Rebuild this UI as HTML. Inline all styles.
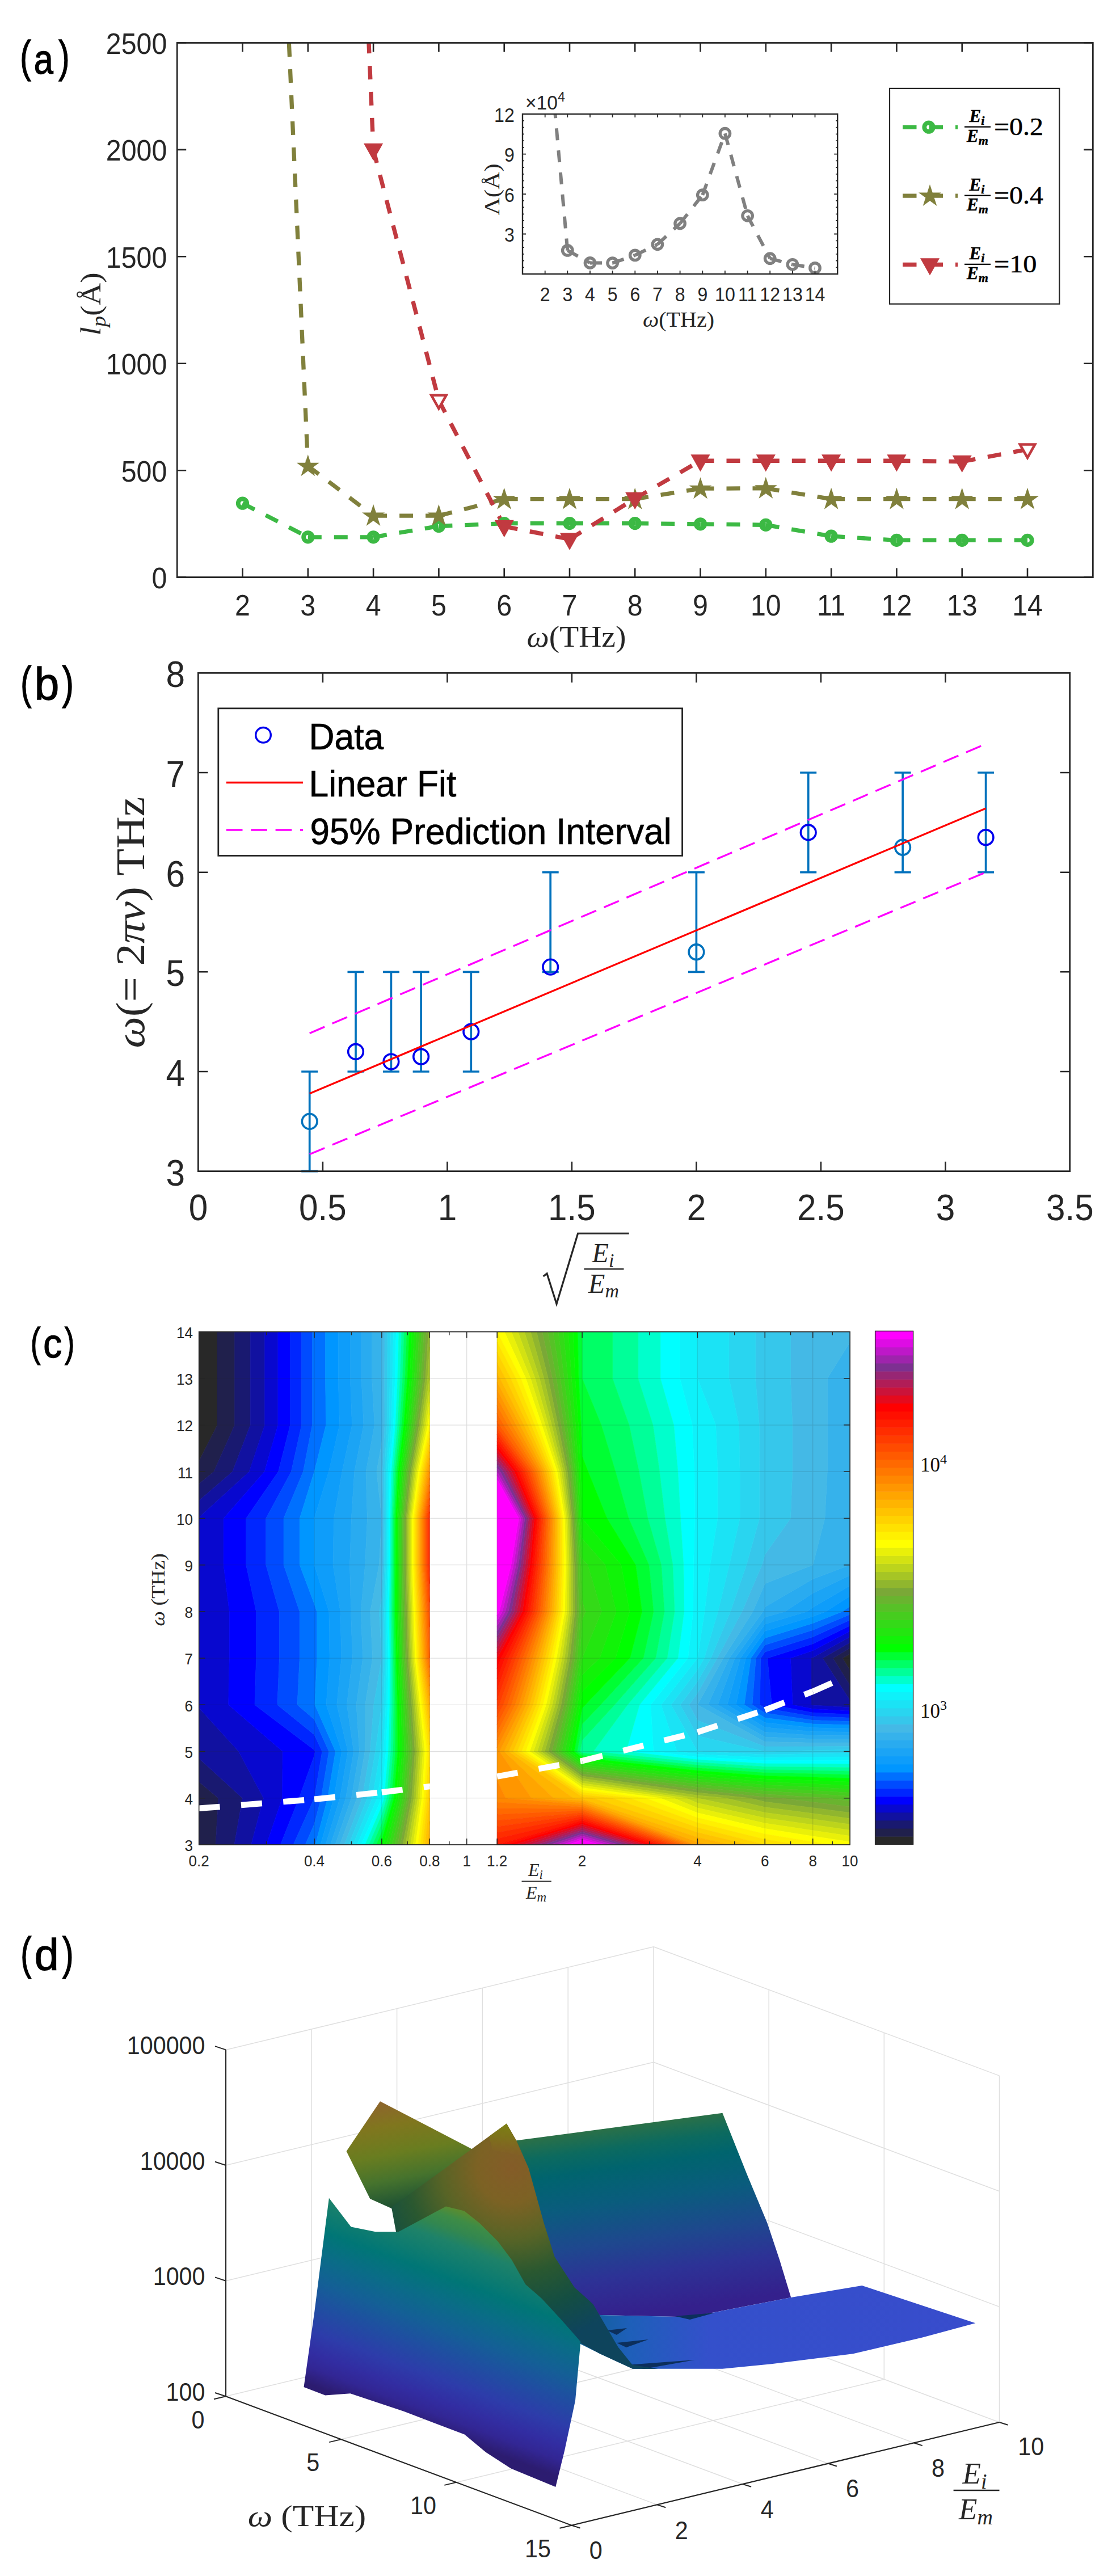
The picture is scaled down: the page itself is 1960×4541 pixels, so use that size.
<!DOCTYPE html>
<html><head><meta charset="utf-8"><title>Figure</title>
<style>html,body{margin:0;padding:0;background:#fff}svg{display:block}</style></head>
<body><svg width="1960" height="4541" viewBox="0 0 1960 4541">
<rect width="1960" height="4541" fill="#fff"/>
<clipPath id="ca"><rect x="312.2" y="75.5" width="1614.1" height="942.1"/></clipPath>
<g clip-path="url(#ca)" stroke="#3cb944" stroke-width="7.3" stroke-dasharray="24 22" fill="none"><line x1="427.5" y1="887.2" x2="542.8" y2="946.8"/><line x1="542.8" y1="946.8" x2="658.1" y2="946.8"/><line x1="658.1" y1="946.8" x2="773.4" y2="927.5"/><line x1="773.4" y1="927.5" x2="888.7" y2="922.6"/><line x1="888.7" y1="922.6" x2="1004" y2="922.6"/><line x1="1004" y1="922.6" x2="1119.2" y2="922.6"/><line x1="1119.2" y1="922.6" x2="1234.5" y2="923.8"/><line x1="1234.5" y1="923.8" x2="1349.8" y2="925.3"/><line x1="1349.8" y1="925.3" x2="1465.1" y2="945.2"/><line x1="1465.1" y1="945.2" x2="1580.4" y2="952.4"/><line x1="1580.4" y1="952.4" x2="1695.7" y2="952.4"/><line x1="1695.7" y1="952.4" x2="1811" y2="952.4"/></g>
<g clip-path="url(#ca)" stroke="#80803c" stroke-width="7.3" stroke-dasharray="24 22" fill="none"><line x1="542.8" y1="821.3" x2="427.5" y2="-1750.3" stroke-dashoffset="14"/><line x1="542.8" y1="821.3" x2="658.1" y2="909.1"/><line x1="658.1" y1="909.1" x2="773.4" y2="909.1"/><line x1="773.4" y1="909.1" x2="888.7" y2="879.7"/><line x1="888.7" y1="879.7" x2="1004" y2="879.7"/><line x1="1004" y1="879.7" x2="1119.2" y2="879.7"/><line x1="1119.2" y1="879.7" x2="1234.5" y2="861.2"/><line x1="1234.5" y1="861.2" x2="1349.8" y2="860.8"/><line x1="1349.8" y1="860.8" x2="1465.1" y2="879.7"/><line x1="1465.1" y1="879.7" x2="1580.4" y2="879.7"/><line x1="1580.4" y1="879.7" x2="1695.7" y2="879.7"/><line x1="1695.7" y1="879.7" x2="1811" y2="879.7"/></g>
<g clip-path="url(#ca)" stroke="#c13a40" stroke-width="7.4" stroke-dasharray="24 22" fill="none"><line x1="658.1" y1="263.9" x2="542.8" y2="-2427.5" stroke-dashoffset="14"/><line x1="658.1" y1="263.9" x2="773.4" y2="705.6"/><line x1="773.4" y1="705.6" x2="888.7" y2="927.9"/><line x1="888.7" y1="927.9" x2="1004" y2="950.5"/><line x1="1004" y1="950.5" x2="1119.2" y2="878.9"/><line x1="1119.2" y1="878.9" x2="1234.5" y2="812.2"/><line x1="1234.5" y1="812.2" x2="1349.8" y2="812.2"/><line x1="1349.8" y1="812.2" x2="1465.1" y2="812.2"/><line x1="1465.1" y1="812.2" x2="1580.4" y2="812.2"/><line x1="1580.4" y1="812.2" x2="1695.7" y2="813.7"/><line x1="1695.7" y1="813.7" x2="1811" y2="792.2"/></g>
<circle cx="427.5" cy="887.2" r="7.7" fill="none" stroke="#3cb944" stroke-width="7.8"/>
<circle cx="542.8" cy="946.8" r="7.7" fill="none" stroke="#3cb944" stroke-width="7.8"/>
<circle cx="658.1" cy="946.8" r="7.7" fill="none" stroke="#3cb944" stroke-width="7.8"/>
<circle cx="773.4" cy="927.5" r="7.7" fill="none" stroke="#3cb944" stroke-width="7.8"/>
<circle cx="888.7" cy="922.6" r="7.7" fill="none" stroke="#3cb944" stroke-width="7.8"/>
<circle cx="1004" cy="922.6" r="7.7" fill="none" stroke="#3cb944" stroke-width="7.8"/>
<circle cx="1119.2" cy="922.6" r="7.7" fill="none" stroke="#3cb944" stroke-width="7.8"/>
<circle cx="1234.5" cy="923.8" r="7.7" fill="none" stroke="#3cb944" stroke-width="7.8"/>
<circle cx="1349.8" cy="925.3" r="7.7" fill="none" stroke="#3cb944" stroke-width="7.8"/>
<circle cx="1465.1" cy="945.2" r="7.7" fill="none" stroke="#3cb944" stroke-width="7.8"/>
<circle cx="1580.4" cy="952.4" r="7.7" fill="none" stroke="#3cb944" stroke-width="7.8"/>
<circle cx="1695.7" cy="952.4" r="7.7" fill="none" stroke="#3cb944" stroke-width="7.8"/>
<circle cx="1811" cy="952.4" r="7.7" fill="none" stroke="#3cb944" stroke-width="7.8"/>
<polygon points="542.8,801.3 547.5,815.8 562.8,815.8 550.4,824.7 555.1,839.3 542.8,830.3 530.4,839.3 535.2,824.7 522.8,815.8 538.1,815.8" fill="#80803c"/>
<polygon points="658.1,889.1 662.8,903.6 678.1,903.6 665.7,912.5 670.4,927.1 658.1,918.1 645.7,927.1 650.4,912.5 638.1,903.6 653.4,903.6" fill="#80803c"/>
<polygon points="773.4,889.1 778.1,903.6 793.3,903.6 781,912.5 785.7,927.1 773.4,918.1 761,927.1 765.7,912.5 753.4,903.6 768.7,903.6" fill="#80803c"/>
<polygon points="888.7,859.7 893.4,874.2 908.6,874.2 896.3,883.2 901,897.7 888.7,888.7 876.3,897.7 881,883.2 868.7,874.2 883.9,874.2" fill="#80803c"/>
<polygon points="1004,859.7 1008.7,874.2 1023.9,874.2 1011.6,883.2 1016.3,897.7 1004,888.7 991.6,897.7 996.3,883.2 984,874.2 999.2,874.2" fill="#80803c"/>
<polygon points="1119.2,859.7 1124,874.2 1139.2,874.2 1126.9,883.2 1131.6,897.7 1119.2,888.7 1106.9,897.7 1111.6,883.2 1099.3,874.2 1114.5,874.2" fill="#80803c"/>
<polygon points="1234.5,841.2 1239.3,855.7 1254.5,855.7 1242.2,864.7 1246.9,879.2 1234.5,870.2 1222.2,879.2 1226.9,864.7 1214.6,855.7 1229.8,855.7" fill="#80803c"/>
<polygon points="1349.8,840.8 1354.6,855.3 1369.8,855.3 1357.5,864.3 1362.2,878.8 1349.8,869.9 1337.5,878.8 1342.2,864.3 1329.9,855.3 1345.1,855.3" fill="#80803c"/>
<polygon points="1465.1,859.7 1469.8,874.2 1485.1,874.2 1472.8,883.2 1477.5,897.7 1465.1,888.7 1452.8,897.7 1457.5,883.2 1445.2,874.2 1460.4,874.2" fill="#80803c"/>
<polygon points="1580.4,859.7 1585.1,874.2 1600.4,874.2 1588.1,883.2 1592.8,897.7 1580.4,888.7 1568.1,897.7 1572.8,883.2 1560.4,874.2 1575.7,874.2" fill="#80803c"/>
<polygon points="1695.7,859.7 1700.4,874.2 1715.7,874.2 1703.3,883.2 1708.1,897.7 1695.7,888.7 1683.4,897.7 1688.1,883.2 1675.7,874.2 1691,874.2" fill="#80803c"/>
<polygon points="1811,859.7 1815.7,874.2 1831,874.2 1818.6,883.2 1823.4,897.7 1811,888.7 1798.7,897.7 1803.4,883.2 1791,874.2 1806.3,874.2" fill="#80803c"/>
<polygon points="644.9,255.1 671.3,255.1 658.1,278.6" fill="#c13a40" stroke="#c13a40" stroke-width="4.5" stroke-linejoin="miter"/>
<polygon points="760.2,696.7 786.6,696.7 773.4,720.2" fill="#fff" stroke="#c13a40" stroke-width="4.5" stroke-linejoin="miter"/>
<polygon points="875.5,919.1 901.9,919.1 888.7,942.6" fill="#c13a40" stroke="#c13a40" stroke-width="4.5" stroke-linejoin="miter"/>
<polygon points="990.8,941.7 1017.2,941.7 1004,965.2" fill="#c13a40" stroke="#c13a40" stroke-width="4.5" stroke-linejoin="miter"/>
<polygon points="1106,870.1 1132.5,870.1 1119.2,893.6" fill="#c13a40" stroke="#c13a40" stroke-width="4.5" stroke-linejoin="miter"/>
<polygon points="1221.3,803.4 1247.7,803.4 1234.5,826.9" fill="#c13a40" stroke="#c13a40" stroke-width="4.5" stroke-linejoin="miter"/>
<polygon points="1336.6,803.4 1363,803.4 1349.8,826.9" fill="#c13a40" stroke="#c13a40" stroke-width="4.5" stroke-linejoin="miter"/>
<polygon points="1451.9,803.4 1478.3,803.4 1465.1,826.9" fill="#c13a40" stroke="#c13a40" stroke-width="4.5" stroke-linejoin="miter"/>
<polygon points="1567.2,803.4 1593.6,803.4 1580.4,826.9" fill="#c13a40" stroke="#c13a40" stroke-width="4.5" stroke-linejoin="miter"/>
<polygon points="1682.5,804.9 1708.9,804.9 1695.7,828.4" fill="#c13a40" stroke="#c13a40" stroke-width="4.5" stroke-linejoin="miter"/>
<polygon points="1797.8,783.4 1824.2,783.4 1811,806.9" fill="#fff" stroke="#c13a40" stroke-width="4.5" stroke-linejoin="miter"/>
<rect x="312.2" y="75.5" width="1614.1" height="942.1" fill="none" stroke="#262626" stroke-width="2.8"/>
<path d="M427.5 1017.6v-16M427.5 75.5v16M542.8 1017.6v-16M542.8 75.5v16M658.1 1017.6v-16M658.1 75.5v16M773.4 1017.6v-16M773.4 75.5v16M888.7 1017.6v-16M888.7 75.5v16M1004 1017.6v-16M1004 75.5v16M1119.2 1017.6v-16M1119.2 75.5v16M1234.5 1017.6v-16M1234.5 75.5v16M1349.8 1017.6v-16M1349.8 75.5v16M1465.1 1017.6v-16M1465.1 75.5v16M1580.4 1017.6v-16M1580.4 75.5v16M1695.7 1017.6v-16M1695.7 75.5v16M1811 1017.6v-16M1811 75.5v16M312.2 1017.6h16M1926.3 1017.6h-16M312.2 829.2h16M1926.3 829.2h-16M312.2 640.8h16M1926.3 640.8h-16M312.2 452.3h16M1926.3 452.3h-16M312.2 263.9h16M1926.3 263.9h-16M312.2 75.5h16M1926.3 75.5h-16" stroke="#262626" stroke-width="2.6" fill="none"/>
<text x="427.5" y="1085.2" font-size="51.4" text-anchor="middle" font-family='"Liberation Sans", sans-serif' fill="#262626" textLength="26.9" lengthAdjust="spacingAndGlyphs" >2</text>
<text x="542.8" y="1085.2" font-size="51.4" text-anchor="middle" font-family='"Liberation Sans", sans-serif' fill="#262626" textLength="26.9" lengthAdjust="spacingAndGlyphs" >3</text>
<text x="658.1" y="1085.2" font-size="51.4" text-anchor="middle" font-family='"Liberation Sans", sans-serif' fill="#262626" textLength="26.9" lengthAdjust="spacingAndGlyphs" >4</text>
<text x="773.4" y="1085.2" font-size="51.4" text-anchor="middle" font-family='"Liberation Sans", sans-serif' fill="#262626" textLength="26.9" lengthAdjust="spacingAndGlyphs" >5</text>
<text x="888.7" y="1085.2" font-size="51.4" text-anchor="middle" font-family='"Liberation Sans", sans-serif' fill="#262626" textLength="26.9" lengthAdjust="spacingAndGlyphs" >6</text>
<text x="1004" y="1085.2" font-size="51.4" text-anchor="middle" font-family='"Liberation Sans", sans-serif' fill="#262626" textLength="26.9" lengthAdjust="spacingAndGlyphs" >7</text>
<text x="1119.2" y="1085.2" font-size="51.4" text-anchor="middle" font-family='"Liberation Sans", sans-serif' fill="#262626" textLength="26.9" lengthAdjust="spacingAndGlyphs" >8</text>
<text x="1234.5" y="1085.2" font-size="51.4" text-anchor="middle" font-family='"Liberation Sans", sans-serif' fill="#262626" textLength="26.9" lengthAdjust="spacingAndGlyphs" >9</text>
<text x="1349.8" y="1085.2" font-size="51.4" text-anchor="middle" font-family='"Liberation Sans", sans-serif' fill="#262626" textLength="53.7" lengthAdjust="spacingAndGlyphs" >10</text>
<text x="1465.1" y="1085.2" font-size="51.4" text-anchor="middle" font-family='"Liberation Sans", sans-serif' fill="#262626" textLength="50.2" lengthAdjust="spacingAndGlyphs" >11</text>
<text x="1580.4" y="1085.2" font-size="51.4" text-anchor="middle" font-family='"Liberation Sans", sans-serif' fill="#262626" textLength="53.7" lengthAdjust="spacingAndGlyphs" >12</text>
<text x="1695.7" y="1085.2" font-size="51.4" text-anchor="middle" font-family='"Liberation Sans", sans-serif' fill="#262626" textLength="53.7" lengthAdjust="spacingAndGlyphs" >13</text>
<text x="1811" y="1085.2" font-size="51.4" text-anchor="middle" font-family='"Liberation Sans", sans-serif' fill="#262626" textLength="53.7" lengthAdjust="spacingAndGlyphs" >14</text>
<text x="294.3" y="1036.9" font-size="51.4" text-anchor="end" font-family='"Liberation Sans", sans-serif' fill="#262626" textLength="26.9" lengthAdjust="spacingAndGlyphs" >0</text>
<text x="294.3" y="848.5" font-size="51.4" text-anchor="end" font-family='"Liberation Sans", sans-serif' fill="#262626" textLength="80.6" lengthAdjust="spacingAndGlyphs" >500</text>
<text x="294.3" y="660.1" font-size="51.4" text-anchor="end" font-family='"Liberation Sans", sans-serif' fill="#262626" textLength="107.5" lengthAdjust="spacingAndGlyphs" >1000</text>
<text x="294.3" y="471.6" font-size="51.4" text-anchor="end" font-family='"Liberation Sans", sans-serif' fill="#262626" textLength="107.5" lengthAdjust="spacingAndGlyphs" >1500</text>
<text x="294.3" y="283.2" font-size="51.4" text-anchor="end" font-family='"Liberation Sans", sans-serif' fill="#262626" textLength="107.5" lengthAdjust="spacingAndGlyphs" >2000</text>
<text x="294.3" y="94.8" font-size="51.4" text-anchor="end" font-family='"Liberation Sans", sans-serif' fill="#262626" textLength="107.5" lengthAdjust="spacingAndGlyphs" >2500</text>
<text transform="translate(176.6,536) rotate(-90)" font-size="50" text-anchor="middle" font-family='"Liberation Serif", serif' fill="#262626" textLength="111" lengthAdjust="spacingAndGlyphs"><tspan font-style="italic">l</tspan><tspan font-style="italic" font-size="35" dy="9">p</tspan><tspan dy="-9">(Å)</tspan></text>
<text x="1016" y="1139.8" font-size="52" text-anchor="middle" font-family='"Liberation Serif", serif' fill="#262626" textLength="175" lengthAdjust="spacingAndGlyphs"><tspan font-style="italic">ω</tspan>(THz)</text>
<g font-family='"Liberation Sans", sans-serif' fill="#000" stroke="#000" stroke-width="1.4"><text transform="translate(38.9,127.1) scale(0.753,1)" x="-4.8" y="0" font-size="77">(</text><text transform="translate(62.3,129.5) scale(0.822,1)" x="-3.1" y="0" font-size="74.5">a</text><text transform="translate(103.6,127.1) scale(0.753,1)" x="-0.5" y="0" font-size="77">)</text></g>
<rect x="1568" y="155.9" width="299.3" height="379.9" fill="#fff" stroke="#262626" stroke-width="2.2"/>
<line x1="1591" y1="224.2" x2="1688" y2="224.2" stroke="#3cb944" stroke-width="7.3" stroke-dasharray="24.5 22"/>
<circle cx="1637" cy="224.2" r="7.7" fill="none" stroke="#3cb944" stroke-width="7.8"/>
<g font-family='"Liberation Serif", serif' fill="#000" stroke="#000" stroke-width="0.5">
<text x="1722" y="215.2" font-size="31" text-anchor="middle" font-style="italic" font-weight="bold">E<tspan font-size="22" dy="5">i</tspan></text>
<text x="1723" y="250.2" font-size="31" text-anchor="middle" font-style="italic" font-weight="bold">E<tspan font-size="22" dy="5">m</tspan></text>
<text x="1752" y="238.2" font-size="44" text-anchor="start" textLength="87" lengthAdjust="spacingAndGlyphs">=0.2</text>
</g>
<line x1="1700" y1="223.7" x2="1746" y2="223.7" stroke="#000" stroke-width="2.2"/>
<line x1="1591" y1="345.1" x2="1688" y2="345.1" stroke="#80803c" stroke-width="7.3" stroke-dasharray="24.5 22"/>
<polygon points="1639,325.1 1643.7,339.6 1659,339.6 1646.6,348.6 1651.3,363.1 1639,354.1 1626.7,363.1 1631.4,348.6 1619,339.6 1634.3,339.6" fill="#80803c"/>
<g font-family='"Liberation Serif", serif' fill="#000" stroke="#000" stroke-width="0.5">
<text x="1722" y="336.1" font-size="31" text-anchor="middle" font-style="italic" font-weight="bold">E<tspan font-size="22" dy="5">i</tspan></text>
<text x="1723" y="371.1" font-size="31" text-anchor="middle" font-style="italic" font-weight="bold">E<tspan font-size="22" dy="5">m</tspan></text>
<text x="1752" y="359.1" font-size="44" text-anchor="start" textLength="87" lengthAdjust="spacingAndGlyphs">=0.4</text>
</g>
<line x1="1700" y1="344.6" x2="1746" y2="344.6" stroke="#000" stroke-width="2.2"/>
<line x1="1591" y1="466.3" x2="1688" y2="466.3" stroke="#c13a40" stroke-width="7.3" stroke-dasharray="24.5 22"/>
<polygon points="1625.8,457.5 1652.2,457.5 1639,481" fill="#c13a40" stroke="#c13a40" stroke-width="4.5"/>
<g font-family='"Liberation Serif", serif' fill="#000" stroke="#000" stroke-width="0.5">
<text x="1722" y="457.3" font-size="31" text-anchor="middle" font-style="italic" font-weight="bold">E<tspan font-size="22" dy="5">i</tspan></text>
<text x="1723" y="492.3" font-size="31" text-anchor="middle" font-style="italic" font-weight="bold">E<tspan font-size="22" dy="5">m</tspan></text>
<text x="1752" y="480.3" font-size="44" text-anchor="start" textLength="75.5" lengthAdjust="spacingAndGlyphs">=10</text>
</g>
<line x1="1700" y1="465.8" x2="1746" y2="465.8" stroke="#000" stroke-width="2.2"/>
<clipPath id="ci"><rect x="921" y="201.1" width="555.2" height="281.9"/></clipPath>
<g clip-path="url(#ci)" stroke="#808080" stroke-width="6" stroke-dasharray="21 18" fill="none"><line x1="1000.3" y1="441.4" x2="960.7" y2="3.8"/><line x1="1000.3" y1="441.4" x2="1040" y2="463.5"/><line x1="1040" y1="463.5" x2="1079.6" y2="463.7"/><line x1="1079.6" y1="463.7" x2="1119.3" y2="449.9"/><line x1="1119.3" y1="449.9" x2="1158.9" y2="430.8"/><line x1="1158.9" y1="430.8" x2="1198.6" y2="394"/><line x1="1198.6" y1="394" x2="1238.3" y2="343.7"/><line x1="1238.3" y1="343.7" x2="1277.9" y2="235.2"/><line x1="1277.9" y1="235.2" x2="1317.6" y2="380.3"/><line x1="1317.6" y1="380.3" x2="1357.2" y2="455.7"/><line x1="1357.2" y1="455.7" x2="1396.9" y2="466.3"/><line x1="1396.9" y1="466.3" x2="1436.5" y2="472.4"/></g>
<circle cx="1000.3" cy="441.4" r="8.7" fill="none" stroke="#808080" stroke-width="5.4"/>
<circle cx="1040" cy="463.5" r="8.7" fill="none" stroke="#808080" stroke-width="5.4"/>
<circle cx="1079.6" cy="463.7" r="8.7" fill="none" stroke="#808080" stroke-width="5.4"/>
<circle cx="1119.3" cy="449.9" r="8.7" fill="none" stroke="#808080" stroke-width="5.4"/>
<circle cx="1158.9" cy="430.8" r="8.7" fill="none" stroke="#808080" stroke-width="5.4"/>
<circle cx="1198.6" cy="394" r="8.7" fill="none" stroke="#808080" stroke-width="5.4"/>
<circle cx="1238.3" cy="343.7" r="8.7" fill="none" stroke="#808080" stroke-width="5.4"/>
<circle cx="1277.9" cy="235.2" r="8.7" fill="none" stroke="#808080" stroke-width="5.4"/>
<circle cx="1317.6" cy="380.3" r="8.7" fill="none" stroke="#808080" stroke-width="5.4"/>
<circle cx="1357.2" cy="455.7" r="8.7" fill="none" stroke="#808080" stroke-width="5.4"/>
<circle cx="1396.9" cy="466.3" r="8.7" fill="none" stroke="#808080" stroke-width="5.4"/>
<circle cx="1436.5" cy="472.4" r="8.7" fill="none" stroke="#808080" stroke-width="5.4"/>
<rect x="921" y="201.1" width="555.2" height="281.9" fill="none" stroke="#262626" stroke-width="2.4"/>
<path d="M960.7 483v-6M960.7 201.1v6M1000.3 483v-6M1000.3 201.1v6M1040 483v-6M1040 201.1v6M1079.6 483v-6M1079.6 201.1v6M1119.3 483v-6M1119.3 201.1v6M1158.9 483v-6M1158.9 201.1v6M1198.6 483v-6M1198.6 201.1v6M1238.3 483v-6M1238.3 201.1v6M1277.9 483v-6M1277.9 201.1v6M1317.6 483v-6M1317.6 201.1v6M1357.2 483v-6M1357.2 201.1v6M1396.9 483v-6M1396.9 201.1v6M1436.5 483v-6M1436.5 201.1v6M921 412.5h6M1476.2 412.5h-6M921 342.1h6M1476.2 342.1h-6M921 271.6h6M1476.2 271.6h-6M921 471.3h3M1476.2 471.3h-3M921 459.5h3M1476.2 459.5h-3M921 447.8h3M1476.2 447.8h-3M921 436h3M1476.2 436h-3M921 424.3h3M1476.2 424.3h-3M921 400.8h3M1476.2 400.8h-3M921 389h3M1476.2 389h-3M921 377.3h3M1476.2 377.3h-3M921 365.5h3M1476.2 365.5h-3M921 353.8h3M1476.2 353.8h-3M921 330.3h3M1476.2 330.3h-3M921 318.6h3M1476.2 318.6h-3M921 306.8h3M1476.2 306.8h-3M921 295.1h3M1476.2 295.1h-3M921 283.3h3M1476.2 283.3h-3M921 259.8h3M1476.2 259.8h-3M921 248.1h3M1476.2 248.1h-3M921 236.3h3M1476.2 236.3h-3M921 224.6h3M1476.2 224.6h-3M921 212.8h3M1476.2 212.8h-3" stroke="#262626" stroke-width="1.8" fill="none"/>
<text x="960.7" y="530.9" font-size="34.5" text-anchor="middle" font-family='"Liberation Sans", sans-serif' fill="#262626" textLength="17.8" lengthAdjust="spacingAndGlyphs" >2</text>
<text x="1000.3" y="530.9" font-size="34.5" text-anchor="middle" font-family='"Liberation Sans", sans-serif' fill="#262626" textLength="17.8" lengthAdjust="spacingAndGlyphs" >3</text>
<text x="1040" y="530.9" font-size="34.5" text-anchor="middle" font-family='"Liberation Sans", sans-serif' fill="#262626" textLength="17.8" lengthAdjust="spacingAndGlyphs" >4</text>
<text x="1079.6" y="530.9" font-size="34.5" text-anchor="middle" font-family='"Liberation Sans", sans-serif' fill="#262626" textLength="17.8" lengthAdjust="spacingAndGlyphs" >5</text>
<text x="1119.3" y="530.9" font-size="34.5" text-anchor="middle" font-family='"Liberation Sans", sans-serif' fill="#262626" textLength="17.8" lengthAdjust="spacingAndGlyphs" >6</text>
<text x="1158.9" y="530.9" font-size="34.5" text-anchor="middle" font-family='"Liberation Sans", sans-serif' fill="#262626" textLength="17.8" lengthAdjust="spacingAndGlyphs" >7</text>
<text x="1198.6" y="530.9" font-size="34.5" text-anchor="middle" font-family='"Liberation Sans", sans-serif' fill="#262626" textLength="17.8" lengthAdjust="spacingAndGlyphs" >8</text>
<text x="1238.3" y="530.9" font-size="34.5" text-anchor="middle" font-family='"Liberation Sans", sans-serif' fill="#262626" textLength="17.8" lengthAdjust="spacingAndGlyphs" >9</text>
<text x="1277.9" y="530.9" font-size="34.5" text-anchor="middle" font-family='"Liberation Sans", sans-serif' fill="#262626" textLength="35.7" lengthAdjust="spacingAndGlyphs" >10</text>
<text x="1317.6" y="530.9" font-size="34.5" text-anchor="middle" font-family='"Liberation Sans", sans-serif' fill="#262626" textLength="33.3" lengthAdjust="spacingAndGlyphs" >11</text>
<text x="1357.2" y="530.9" font-size="34.5" text-anchor="middle" font-family='"Liberation Sans", sans-serif' fill="#262626" textLength="35.7" lengthAdjust="spacingAndGlyphs" >12</text>
<text x="1396.9" y="530.9" font-size="34.5" text-anchor="middle" font-family='"Liberation Sans", sans-serif' fill="#262626" textLength="35.7" lengthAdjust="spacingAndGlyphs" >13</text>
<text x="1436.5" y="530.9" font-size="34.5" text-anchor="middle" font-family='"Liberation Sans", sans-serif' fill="#262626" textLength="35.7" lengthAdjust="spacingAndGlyphs" >14</text>
<text x="906.8" y="426.1" font-size="34.5" text-anchor="end" font-family='"Liberation Sans", sans-serif' fill="#262626" textLength="17.8" lengthAdjust="spacingAndGlyphs" >3</text>
<text x="906.8" y="355.7" font-size="34.5" text-anchor="end" font-family='"Liberation Sans", sans-serif' fill="#262626" textLength="17.8" lengthAdjust="spacingAndGlyphs" >6</text>
<text x="906.8" y="285.2" font-size="34.5" text-anchor="end" font-family='"Liberation Sans", sans-serif' fill="#262626" textLength="17.8" lengthAdjust="spacingAndGlyphs" >9</text>
<text x="906.8" y="214.7" font-size="34.5" text-anchor="end" font-family='"Liberation Sans", sans-serif' fill="#262626" textLength="35.7" lengthAdjust="spacingAndGlyphs" >12</text>
<text x="926" y="192.7" font-size="34.5" font-family='"Liberation Sans", sans-serif' fill="#262626" textLength="70" lengthAdjust="spacingAndGlyphs">×10<tspan font-size="24" dy="-14">4</tspan></text>
<text transform="translate(880,334) rotate(-90)" font-size="38" text-anchor="middle" font-family='"Liberation Serif", serif' fill="#262626" textLength="91" lengthAdjust="spacingAndGlyphs">Λ(Å)</text>
<text x="1196" y="576" font-size="38" text-anchor="middle" font-family='"Liberation Serif", serif' fill="#262626" textLength="126" lengthAdjust="spacingAndGlyphs"><tspan font-style="italic">ω</tspan>(THz)</text>
<path d="M545.7 2064.7V1889M531.2 2064.7h29M531.2 1889h29M627 1889V1713.3M612.5 1889h29M612.5 1713.3h29M689.4 1889V1713.3M674.9 1889h29M674.9 1713.3h29M742.1 1889V1713.3M727.6 1889h29M727.6 1713.3h29M830.3 1889V1713.3M815.8 1889h29M815.8 1713.3h29M970.2 1713.3V1537.7M955.7 1713.3h29M955.7 1537.7h29M1227.4 1713.3V1537.7M1212.9 1713.3h29M1212.9 1537.7h29M1424.7 1537.7V1362M1410.2 1537.7h29M1410.2 1362h29M1591.1 1537.7V1362M1576.6 1537.7h29M1576.6 1362h29M1737.6 1537.7V1362M1723.1 1537.7h29M1723.1 1362h29" stroke="#0072bd" stroke-width="3.7" fill="none"/>
<circle cx="545.7" cy="1976.9" r="13.3" fill="none" stroke="#0072bd" stroke-width="3.6"/>
<circle cx="627" cy="1853.9" r="13.3" fill="none" stroke="#0000ee" stroke-width="3.6"/>
<circle cx="689.4" cy="1871.5" r="13.3" fill="none" stroke="#0000ee" stroke-width="3.6"/>
<circle cx="742.1" cy="1862.7" r="13.3" fill="none" stroke="#0000ee" stroke-width="3.6"/>
<circle cx="830.3" cy="1818.7" r="13.3" fill="none" stroke="#0000ee" stroke-width="3.6"/>
<circle cx="970.2" cy="1704.6" r="13.3" fill="none" stroke="#0000ee" stroke-width="3.6"/>
<circle cx="1227.4" cy="1678.2" r="13.3" fill="none" stroke="#0072bd" stroke-width="3.6"/>
<circle cx="1424.7" cy="1467.4" r="13.3" fill="none" stroke="#0000ee" stroke-width="3.6"/>
<circle cx="1591.1" cy="1493.7" r="13.3" fill="none" stroke="#0072bd" stroke-width="3.6"/>
<circle cx="1737.6" cy="1476.2" r="13.3" fill="none" stroke="#0000ee" stroke-width="3.6"/>
<line x1="545.7" y1="1927.7" x2="1737.6" y2="1424.9" stroke="#f00" stroke-width="3.3" />
<line x1="545.7" y1="1821.4" x2="1737.6" y2="1311.4" stroke="#f0f" stroke-width="3.3" stroke-dasharray="28.7 14.7"/>
<line x1="545.7" y1="2034.8" x2="1737.6" y2="1537.7" stroke="#f0f" stroke-width="3.3" stroke-dasharray="28.7 14.7"/>
<rect x="349.4" y="1186.3" width="1536.2" height="878.4" fill="none" stroke="#262626" stroke-width="2.8"/>
<path d="M568.9 2064.7v-17M568.9 1186.3v17M788.4 2064.7v-17M788.4 1186.3v17M1007.9 2064.7v-17M1007.9 1186.3v17M1227.4 2064.7v-17M1227.4 1186.3v17M1446.9 2064.7v-17M1446.9 1186.3v17M1666.4 2064.7v-17M1666.4 1186.3v17M349.4 1889h17M1885.6 1889h-17M349.4 1713.3h17M1885.6 1713.3h-17M349.4 1537.7h17M1885.6 1537.7h-17M349.4 1362h17M1885.6 1362h-17" stroke="#262626" stroke-width="2.6" fill="none"/>
<text x="349.4" y="2151" font-size="64" text-anchor="middle" font-family='"Liberation Sans", sans-serif' fill="#262626" textLength="33.5" lengthAdjust="spacingAndGlyphs" >0</text>
<text x="568.9" y="2151" font-size="64" text-anchor="middle" font-family='"Liberation Sans", sans-serif' fill="#262626" textLength="83.6" lengthAdjust="spacingAndGlyphs" >0.5</text>
<text x="788.4" y="2151" font-size="64" text-anchor="middle" font-family='"Liberation Sans", sans-serif' fill="#262626" textLength="33.5" lengthAdjust="spacingAndGlyphs" >1</text>
<text x="1007.9" y="2151" font-size="64" text-anchor="middle" font-family='"Liberation Sans", sans-serif' fill="#262626" textLength="83.6" lengthAdjust="spacingAndGlyphs" >1.5</text>
<text x="1227.4" y="2151" font-size="64" text-anchor="middle" font-family='"Liberation Sans", sans-serif' fill="#262626" textLength="33.5" lengthAdjust="spacingAndGlyphs" >2</text>
<text x="1446.9" y="2151" font-size="64" text-anchor="middle" font-family='"Liberation Sans", sans-serif' fill="#262626" textLength="83.6" lengthAdjust="spacingAndGlyphs" >2.5</text>
<text x="1666.4" y="2151" font-size="64" text-anchor="middle" font-family='"Liberation Sans", sans-serif' fill="#262626" textLength="33.5" lengthAdjust="spacingAndGlyphs" >3</text>
<text x="1885.9" y="2151" font-size="64" text-anchor="middle" font-family='"Liberation Sans", sans-serif' fill="#262626" textLength="83.6" lengthAdjust="spacingAndGlyphs" >3.5</text>
<text x="326" y="2089.7" font-size="64" text-anchor="end" font-family='"Liberation Sans", sans-serif' fill="#262626" textLength="33.5" lengthAdjust="spacingAndGlyphs" >3</text>
<text x="326" y="1914" font-size="64" text-anchor="end" font-family='"Liberation Sans", sans-serif' fill="#262626" textLength="33.5" lengthAdjust="spacingAndGlyphs" >4</text>
<text x="326" y="1738.3" font-size="64" text-anchor="end" font-family='"Liberation Sans", sans-serif' fill="#262626" textLength="33.5" lengthAdjust="spacingAndGlyphs" >5</text>
<text x="326" y="1562.7" font-size="64" text-anchor="end" font-family='"Liberation Sans", sans-serif' fill="#262626" textLength="33.5" lengthAdjust="spacingAndGlyphs" >6</text>
<text x="326" y="1387" font-size="64" text-anchor="end" font-family='"Liberation Sans", sans-serif' fill="#262626" textLength="33.5" lengthAdjust="spacingAndGlyphs" >7</text>
<text x="326" y="1211.3" font-size="64" text-anchor="end" font-family='"Liberation Sans", sans-serif' fill="#262626" textLength="33.5" lengthAdjust="spacingAndGlyphs" >8</text>
<rect x="384.8" y="1248.8" width="817.8" height="259.6" fill="#fff" stroke="#262626" stroke-width="2.8"/>
<circle cx="464" cy="1295.8" r="13.3" fill="none" stroke="#0000ee" stroke-width="3.4"/>
<line x1="398.8" y1="1379.5" x2="534" y2="1379.5" stroke="#f00" stroke-width="3.3" />
<line x1="398.8" y1="1463" x2="534" y2="1463" stroke="#f0f" stroke-width="3.3" stroke-dasharray="28.7 14.7"/>
<text x="544.5" y="1320.8" font-size="64.5" text-anchor="start" font-family='"Liberation Sans", sans-serif' fill="#000" textLength="131.6" lengthAdjust="spacingAndGlyphs" stroke="#000" stroke-width="0.7">Data</text>
<text x="544.5" y="1404.3" font-size="64.5" text-anchor="start" font-family='"Liberation Sans", sans-serif' fill="#000" textLength="259.7" lengthAdjust="spacingAndGlyphs" stroke="#000" stroke-width="0.7">Linear Fit</text>
<text x="546.5" y="1488" font-size="64.5" text-anchor="start" font-family='"Liberation Sans", sans-serif' fill="#000" textLength="637" lengthAdjust="spacingAndGlyphs" stroke="#000" stroke-width="0.7">95% Prediction Interval</text>
<text transform="translate(253.9,1626) rotate(-90)" font-size="71" text-anchor="middle" font-family='"Liberation Serif", serif' fill="#262626" textLength="443" lengthAdjust="spacingAndGlyphs"><tspan font-style="italic">ω</tspan>(= 2<tspan font-style="italic">πν</tspan>) THz</text>
<path d="M957.6 2250L964 2245L981 2298.5L1018.6 2174.4H1108.7" fill="none" stroke="#262626" stroke-width="3.2" stroke-linejoin="miter"/>
<line x1="1029.4" y1="2237" x2="1099.5" y2="2237" stroke="#262626" stroke-width="2.6"/>
<text x="1063" y="2224.6" font-size="48" text-anchor="middle" font-style="italic" font-family='"Liberation Serif", serif' fill="#262626">E<tspan font-size="34" dy="8">i</tspan></text>
<text x="1064" y="2278.6" font-size="48" text-anchor="middle" font-style="italic" font-family='"Liberation Serif", serif' fill="#262626">E<tspan font-size="34" dy="8">m</tspan></text>
<g font-family='"Liberation Sans", sans-serif' fill="#000" stroke="#000" stroke-width="1.4"><text transform="translate(39.8,1230.7) scale(0.723,1)" x="-4.9" y="0" font-size="79.6">(</text><text transform="translate(65.9,1233) scale(0.977,1)" x="-5.2" y="0" font-size="80">b</text><text transform="translate(109.9,1230.7) scale(0.771,1)" x="-0.5" y="0" font-size="79.6">)</text></g>
<path d="M350.7 2347.7L383 2347.7L383 2429.9L383 2512.1L350.7 2575.6L350.7 2512.1L350.7 2429.9Z" fill="#282828" stroke="#282828" stroke-width="0.7"/>
<path d="M383 2347.7L413.6 2347.7L413.6 2429.9L413.6 2512.1L376.9 2594.3L350.7 2615.7L350.7 2594.3L350.7 2575.6L383 2512.1L383 2429.9ZM350.7 3169.7L350.7 3140.9L384.7 3169.7L380.1 3251.9L350.7 3251.9Z" fill="#20204c" stroke="#20204c" stroke-width="0.7"/>
<path d="M413.6 2347.7L441.3 2347.7L441.3 2429.9L441.3 2512.1L409.7 2594.3L350.7 2645.3L350.7 2615.7L376.9 2594.3L413.6 2512.1L413.6 2429.9ZM350.7 3140.9L350.7 3099.8L427.3 3169.7L413 3251.9L380.1 3251.9L384.7 3169.7Z" fill="#191970" stroke="#191970" stroke-width="0.7"/>
<path d="M441.3 2347.7L466.6 2347.7L466.6 2429.9L466.6 2512.1L439.2 2594.3L350.7 2675L350.7 2645.3L409.7 2594.3L441.3 2512.1L441.3 2429.9ZM350.7 3087.5L350.7 3010.8L420.6 3087.5L464.4 3169.7L442.7 3251.9L413 3251.9L427.3 3169.7L350.7 3099.8Z" fill="#1111a0" stroke="#1111a0" stroke-width="0.7"/>
<path d="M466.6 2347.7L489.9 2347.7L489.9 2429.9L489.9 2512.1L466.1 2594.3L394.1 2676.5L394.1 2758.7L404.2 2840.9L404.2 2923.1L402.7 3005.3L498.3 3087.5L497.4 3169.7L469.6 3251.9L442.7 3251.9L464.4 3169.7L420.6 3087.5L350.7 3010.8L350.7 3005.3L350.7 2923.1L350.7 2840.9L350.7 2758.7L350.7 2676.5L350.7 2675L439.2 2594.3L466.6 2512.1L466.6 2429.9Z" fill="#0808cf" stroke="#0808cf" stroke-width="0.7"/>
<path d="M489.9 2347.7L511.5 2347.7L511.5 2429.9L511.5 2512.1L490.6 2594.3L433.8 2676.5L433.8 2758.7L451.6 2840.9L451.6 2923.1L449 3005.3L554 3084.8L555.3 3087.5L554 3095L527.1 3169.7L494.3 3251.9L469.6 3251.9L497.4 3169.7L498.3 3087.5L402.7 3005.3L404.2 2923.1L404.2 2840.9L394.1 2758.7L394.1 2676.5L466.1 2594.3L489.9 2512.1L489.9 2429.9Z" fill="#0000ff" stroke="#0000ff" stroke-width="0.7"/>
<path d="M511.5 2347.7L531.6 2347.7L531.6 2429.9L531.6 2512.1L513.3 2594.3L468.8 2676.5L468.8 2758.7L492.4 2840.9L492.4 2923.1L488.9 3005.3L554 3057.9L567.8 3087.5L554 3169.7L554 3169.7L517 3251.9L494.3 3251.9L527.1 3169.7L554 3095L555.3 3087.5L554 3084.8L449 3005.3L451.6 2923.1L451.6 2840.9L433.8 2758.7L433.8 2676.5L490.6 2594.3L511.5 2512.1L511.5 2429.9Z" fill="#0026ff" stroke="#0026ff" stroke-width="0.7"/>
<path d="M531.6 2347.7L550.4 2347.7L550.4 2429.9L550.4 2512.1L534.4 2594.3L500 2676.5L500 2758.7L528.2 2840.9L528.2 2923.1L524.1 3005.3L554 3030.9L579.8 3087.5L566 3169.7L554 3215.4L538.1 3251.9L517 3251.9L554 3169.7L554 3169.7L567.8 3087.5L554 3057.9L488.9 3005.3L492.4 2923.1L492.4 2840.9L468.8 2758.7L468.8 2676.5L513.3 2594.3L531.6 2512.1L531.6 2429.9Z" fill="#004bff" stroke="#004bff" stroke-width="0.7"/>
<path d="M550.4 2347.7L554 2347.7L573.6 2347.7L573.6 2429.9L574.6 2512.1L554 2594.3L554 2594.3L528.3 2676.5L528.3 2758.7L554 2827.2L558.5 2840.9L558.7 2923.1L555 3005.3L591.4 3087.5L577.5 3169.7L555.9 3251.9L554 3251.9L538.1 3251.9L554 3215.4L566 3169.7L579.8 3087.5L554 3030.9L524.1 3005.3L528.2 2923.1L528.2 2840.9L500 2758.7L500 2676.5L534.4 2594.3L550.4 2512.1L550.4 2429.9Z" fill="#0070ff" stroke="#0070ff" stroke-width="0.7"/>
<path d="M573.6 2347.7L596.3 2347.7L596.3 2429.9L598.5 2512.1L579.5 2594.3L554 2676.5L554 2758.7L579.9 2840.9L581.1 2923.1L575.1 3005.3L602.5 3087.5L588.5 3169.7L565 3251.9L555.9 3251.9L577.5 3169.7L591.4 3087.5L555 3005.3L558.7 2923.1L558.5 2840.9L554 2827.2L528.3 2758.7L528.3 2676.5L554 2594.3L554 2594.3L574.6 2512.1L573.6 2429.9Z" fill="#0096ff" stroke="#0096ff" stroke-width="0.7"/>
<path d="M596.3 2347.7L617.4 2347.7L617.4 2429.9L620.5 2512.1L603 2594.3L588.5 2676.5L587 2758.7L599.9 2840.9L601.9 2923.1L593.8 3005.3L613.2 3087.5L599.2 3169.7L573.9 3251.9L565 3251.9L588.5 3169.7L602.5 3087.5L575.1 3005.3L581.1 2923.1L579.9 2840.9L554 2758.7L554 2676.5L579.5 2594.3L598.5 2512.1L596.3 2429.9Z" fill="#0e9dfa" stroke="#0e9dfa" stroke-width="0.7"/>
<path d="M617.4 2347.7L637.1 2347.7L637.1 2429.9L641 2512.1L624.7 2594.3L619.4 2676.5L616.6 2758.7L618.5 2840.9L621.3 2923.1L611.4 3005.3L623.5 3087.5L609.5 3169.7L582.5 3251.9L573.9 3251.9L599.2 3169.7L613.2 3087.5L593.8 3005.3L601.9 2923.1L599.9 2840.9L587 2758.7L588.5 2676.5L603 2594.3L620.5 2512.1L617.4 2429.9Z" fill="#1ba4f5" stroke="#1ba4f5" stroke-width="0.7"/>
<path d="M637.1 2347.7L655.6 2347.7L655.6 2429.9L660.2 2512.1L645 2594.3L647.4 2676.5L643.6 2758.7L636.1 2840.9L639.6 2923.1L628.1 3005.3L633.5 3087.5L619.4 3169.7L590.8 3251.9L582.5 3251.9L609.5 3169.7L623.5 3087.5L611.4 3005.3L621.3 2923.1L618.5 2840.9L616.6 2758.7L619.4 2676.5L624.7 2594.3L641 2512.1L637.1 2429.9Z" fill="#29abf0" stroke="#29abf0" stroke-width="0.7"/>
<path d="M655.6 2347.7L672.9 2347.7L672.9 2347.7L672.9 2429.9L674.1 2512.1L672.9 2542.9L663.9 2594.3L672.9 2676.5L672.9 2676.5L672.9 2676.5L668.2 2758.7L652.7 2840.9L656.7 2923.1L643.8 3005.3L643.2 3087.5L629.1 3169.7L598.9 3251.9L590.8 3251.9L619.4 3169.7L633.5 3087.5L628.1 3005.3L639.6 2923.1L636.1 2840.9L643.6 2758.7L647.4 2676.5L645 2594.3L660.2 2512.1L655.6 2429.9Z" fill="#36b2eb" stroke="#36b2eb" stroke-width="0.7"/>
<path d="M672.9 2347.7L678.2 2347.7L677.8 2429.9L678.1 2512.1L674.5 2594.3L675.5 2676.5L675 2758.7L672.9 2818.5L668.4 2840.9L672.9 2923.1L672.9 2923.1L672.9 2923.1L658.7 3005.3L652.5 3087.5L638.4 3169.7L606.9 3251.9L598.9 3251.9L629.1 3169.7L643.2 3087.5L643.8 3005.3L656.7 2923.1L652.7 2840.9L668.2 2758.7L672.9 2676.5L672.9 2676.5L672.9 2676.5L663.9 2594.3L672.9 2542.9L674.1 2512.1L672.9 2429.9Z" fill="#44b9e6" stroke="#44b9e6" stroke-width="0.7"/>
<path d="M678.2 2347.7L683.3 2347.7L682.5 2429.9L682 2512.1L677.7 2594.3L678 2676.5L677.5 2758.7L674.9 2840.9L675.9 2923.1L672.9 3005.3L672.9 3005.3L661.6 3087.5L647.4 3169.7L614.6 3251.9L606.9 3251.9L638.4 3169.7L652.5 3087.5L658.7 3005.3L672.9 2923.1L672.9 2923.1L672.9 2923.1L668.4 2840.9L672.9 2818.5L675 2758.7L675.5 2676.5L674.5 2594.3L678.1 2512.1L677.8 2429.9Z" fill="#36c7eb" stroke="#36c7eb" stroke-width="0.7"/>
<path d="M683.3 2347.7L688.4 2347.7L687.2 2429.9L685.9 2512.1L680.8 2594.3L680.5 2676.5L680.1 2758.7L677.7 2840.9L678.8 2923.1L676.5 3005.3L672.9 3068.5L670.3 3087.5L656.2 3169.7L622.1 3251.9L614.6 3251.9L647.4 3169.7L661.6 3087.5L672.9 3005.3L672.9 3005.3L675.9 2923.1L674.9 2840.9L677.5 2758.7L678 2676.5L677.7 2594.3L682 2512.1L682.5 2429.9Z" fill="#29d5f0" stroke="#29d5f0" stroke-width="0.7"/>
<path d="M688.4 2347.7L693.3 2347.7L691.9 2429.9L689.7 2512.1L683.9 2594.3L683 2676.5L682.6 2758.7L680.5 2840.9L681.7 2923.1L680.1 3005.3L676 3087.5L672.9 3121.3L664.7 3169.7L629.4 3251.9L622.1 3251.9L656.2 3169.7L670.3 3087.5L672.9 3068.5L676.5 3005.3L678.8 2923.1L677.7 2840.9L680.1 2758.7L680.5 2676.5L680.8 2594.3L685.9 2512.1L687.2 2429.9Z" fill="#1be3f5" stroke="#1be3f5" stroke-width="0.7"/>
<path d="M693.3 2347.7L698.2 2347.7L696.4 2429.9L693.5 2512.1L687 2594.3L685.5 2676.5L685.1 2758.7L683.3 2840.9L684.5 2923.1L683.6 3005.3L680.3 3087.5L672.9 3169.7L672.9 3169.7L636.5 3251.9L629.4 3251.9L664.7 3169.7L672.9 3121.3L676 3087.5L680.1 3005.3L681.7 2923.1L680.5 2840.9L682.6 2758.7L683 2676.5L683.9 2594.3L689.7 2512.1L691.9 2429.9Z" fill="#0ef1fa" stroke="#0ef1fa" stroke-width="0.7"/>
<path d="M698.2 2347.7L703 2347.7L700.9 2429.9L697.2 2512.1L690 2594.3L688 2676.5L687.6 2758.7L686.1 2840.9L687.4 2923.1L687.1 3005.3L684.6 3087.5L677.3 3169.7L672.9 3184.6L643.5 3251.9L636.5 3251.9L672.9 3169.7L672.9 3169.7L680.3 3087.5L683.6 3005.3L684.5 2923.1L683.3 2840.9L685.1 2758.7L685.5 2676.5L687 2594.3L693.5 2512.1L696.4 2429.9Z" fill="#00ffff" stroke="#00ffff" stroke-width="0.7"/>
<path d="M703 2347.7L707.8 2347.7L705.3 2429.9L700.9 2512.1L693.1 2594.3L690.4 2676.5L690 2758.7L688.8 2840.9L690.2 2923.1L690.5 3005.3L688.8 3087.5L681.7 3169.7L672.9 3199.6L650.3 3251.9L643.5 3251.9L672.9 3184.6L677.3 3169.7L684.6 3087.5L687.1 3005.3L687.4 2923.1L686.1 2840.9L687.6 2758.7L688 2676.5L690 2594.3L697.2 2512.1L700.9 2429.9Z" fill="#00ffcc" stroke="#00ffcc" stroke-width="0.7"/>
<path d="M707.8 2347.7L712.4 2347.7L709.6 2429.9L704.5 2512.1L696 2594.3L692.8 2676.5L692.4 2758.7L691.5 2840.9L693 2923.1L693.9 3005.3L692.9 3087.5L686 3169.7L672.9 3214.5L656.9 3251.9L650.3 3251.9L672.9 3199.6L681.7 3169.7L688.8 3087.5L690.5 3005.3L690.2 2923.1L688.8 2840.9L690 2758.7L690.4 2676.5L693.1 2594.3L700.9 2512.1L705.3 2429.9Z" fill="#00ff99" stroke="#00ff99" stroke-width="0.7"/>
<path d="M712.4 2347.7L717 2347.7L713.9 2429.9L708.1 2512.1L699 2594.3L695.2 2676.5L694.8 2758.7L694.1 2840.9L695.7 2923.1L697.2 3005.3L697 3087.5L690.2 3169.7L672.9 3229.5L663.4 3251.9L656.9 3251.9L672.9 3214.5L686 3169.7L692.9 3087.5L693.9 3005.3L693 2923.1L691.5 2840.9L692.4 2758.7L692.8 2676.5L696 2594.3L704.5 2512.1L709.6 2429.9Z" fill="#00ff66" stroke="#00ff66" stroke-width="0.7"/>
<path d="M717 2347.7L721.5 2347.7L718.1 2429.9L711.7 2512.1L701.9 2594.3L697.6 2676.5L697.2 2758.7L696.8 2840.9L698.4 2923.1L700.5 3005.3L701 3087.5L694.3 3169.7L672.9 3244.4L669.8 3251.9L663.4 3251.9L672.9 3229.5L690.2 3169.7L697 3087.5L697.2 3005.3L695.7 2923.1L694.1 2840.9L694.8 2758.7L695.2 2676.5L699 2594.3L708.1 2512.1L713.9 2429.9Z" fill="#00ff33" stroke="#00ff33" stroke-width="0.7"/>
<path d="M721.5 2347.7L726 2347.7L722.3 2429.9L715.2 2512.1L704.8 2594.3L699.9 2676.5L699.6 2758.7L699.4 2840.9L701.1 2923.1L703.8 3005.3L705 3087.5L698.4 3169.7L675.6 3251.9L672.9 3251.9L669.8 3251.9L672.9 3244.4L694.3 3169.7L701 3087.5L700.5 3005.3L698.4 2923.1L696.8 2840.9L697.2 2758.7L697.6 2676.5L701.9 2594.3L711.7 2512.1L718.1 2429.9Z" fill="#00ff00" stroke="#00ff00" stroke-width="0.7"/>
<path d="M726 2347.7L730.3 2347.7L726.4 2429.9L718.7 2512.1L707.6 2594.3L702.3 2676.5L702 2758.7L702 2840.9L703.8 2923.1L707.1 3005.3L708.9 3087.5L702.5 3169.7L680.7 3251.9L675.6 3251.9L698.4 3169.7L705 3087.5L703.8 3005.3L701.1 2923.1L699.4 2840.9L699.6 2758.7L699.9 2676.5L704.8 2594.3L715.2 2512.1L722.3 2429.9Z" fill="#11f308" stroke="#11f308" stroke-width="0.7"/>
<path d="M730.3 2347.7L734.6 2347.7L730.4 2429.9L722.1 2512.1L710.5 2594.3L704.6 2676.5L704.3 2758.7L704.6 2840.9L706.5 2923.1L710.3 3005.3L712.8 3087.5L706.5 3169.7L685.8 3251.9L680.7 3251.9L702.5 3169.7L708.9 3087.5L707.1 3005.3L703.8 2923.1L702 2840.9L702 2758.7L702.3 2676.5L707.6 2594.3L718.7 2512.1L726.4 2429.9Z" fill="#23e610" stroke="#23e610" stroke-width="0.7"/>
<path d="M734.6 2347.7L738.9 2347.7L734.4 2429.9L725.5 2512.1L713.3 2594.3L706.9 2676.5L706.6 2758.7L707.2 2840.9L709.1 2923.1L713.4 3005.3L716.6 3087.5L710.4 3169.7L690.9 3251.9L685.8 3251.9L706.5 3169.7L712.8 3087.5L710.3 3005.3L706.5 2923.1L704.6 2840.9L704.3 2758.7L704.6 2676.5L710.5 2594.3L722.1 2512.1L730.4 2429.9Z" fill="#34da18" stroke="#34da18" stroke-width="0.7"/>
<path d="M738.9 2347.7L743.1 2347.7L738.4 2429.9L728.8 2512.1L716.1 2594.3L709.2 2676.5L708.9 2758.7L709.7 2840.9L711.7 2923.1L716.6 3005.3L720.4 3087.5L714.3 3169.7L695.8 3251.9L690.9 3251.9L710.4 3169.7L716.6 3087.5L713.4 3005.3L709.1 2923.1L707.2 2840.9L706.6 2758.7L706.9 2676.5L713.3 2594.3L725.5 2512.1L734.4 2429.9Z" fill="#46cd1f" stroke="#46cd1f" stroke-width="0.7"/>
<path d="M743.1 2347.7L747.2 2347.7L742.3 2429.9L732.1 2512.1L718.8 2594.3L711.4 2676.5L711.2 2758.7L712.2 2840.9L714.3 2923.1L719.7 3005.3L724.1 3087.5L718.1 3169.7L700.6 3251.9L695.8 3251.9L714.3 3169.7L720.4 3087.5L716.6 3005.3L711.7 2923.1L709.7 2840.9L708.9 2758.7L709.2 2676.5L716.1 2594.3L728.8 2512.1L738.4 2429.9Z" fill="#57c127" stroke="#57c127" stroke-width="0.7"/>
<path d="M747.2 2347.7L751.3 2347.7L746.1 2429.9L735.4 2512.1L721.6 2594.3L713.7 2676.5L713.4 2758.7L714.7 2840.9L716.9 2923.1L722.8 3005.3L727.8 3087.5L721.9 3169.7L705.4 3251.9L700.6 3251.9L718.1 3169.7L724.1 3087.5L719.7 3005.3L714.3 2923.1L712.2 2840.9L711.2 2758.7L711.4 2676.5L718.8 2594.3L732.1 2512.1L742.3 2429.9Z" fill="#69b42f" stroke="#69b42f" stroke-width="0.7"/>
<path d="M751.3 2347.7L755.3 2347.7L749.9 2429.9L738.6 2512.1L724.3 2594.3L715.9 2676.5L715.7 2758.7L717.2 2840.9L719.4 2923.1L725.8 3005.3L731.4 3087.5L725.7 3169.7L710.1 3251.9L705.4 3251.9L721.9 3169.7L727.8 3087.5L722.8 3005.3L716.9 2923.1L714.7 2840.9L713.4 2758.7L713.7 2676.5L721.6 2594.3L735.4 2512.1L746.1 2429.9Z" fill="#7aa837" stroke="#7aa837" stroke-width="0.7"/>
<path d="M755.3 2347.7L757.3 2347.7L757.3 2375.1L753.6 2429.9L741.8 2512.1L726.9 2594.3L718.1 2676.5L717.9 2758.7L719.6 2840.9L721.9 2923.1L728.8 3005.3L735 3087.5L729.3 3169.7L714.7 3251.9L710.1 3251.9L725.7 3169.7L731.4 3087.5L725.8 3005.3L719.4 2923.1L717.2 2840.9L715.7 2758.7L715.9 2676.5L724.3 2594.3L738.6 2512.1L749.9 2429.9Z" fill="#90b62e" stroke="#90b62e" stroke-width="0.7"/>
<path d="M753.6 2429.9L757.3 2375.1L757.3 2429.9L757.3 2429.9L745 2512.1L729.6 2594.3L720.3 2676.5L720.1 2758.7L722 2840.9L724.4 2923.1L731.8 3005.3L738.5 3087.5L733 3169.7L719.3 3251.9L714.7 3251.9L729.3 3169.7L735 3087.5L728.8 3005.3L721.9 2923.1L719.6 2840.9L717.9 2758.7L718.1 2676.5L726.9 2594.3L741.8 2512.1Z" fill="#a6c525" stroke="#a6c525" stroke-width="0.7"/>
<path d="M745 2512.1L757.3 2429.9L757.3 2450.4L748.1 2512.1L732.2 2594.3L722.5 2676.5L722.3 2758.7L724.4 2840.9L726.9 2923.1L734.7 3005.3L742 3087.5L736.6 3169.7L723.7 3251.9L719.3 3251.9L733 3169.7L738.5 3087.5L731.8 3005.3L724.4 2923.1L722 2840.9L720.1 2758.7L720.3 2676.5L729.6 2594.3Z" fill="#bcd41c" stroke="#bcd41c" stroke-width="0.7"/>
<path d="M748.1 2512.1L757.3 2450.4L757.3 2471L751.2 2512.1L734.8 2594.3L724.7 2676.5L724.5 2758.7L726.8 2840.9L729.3 2923.1L737.6 3005.3L745.5 3087.5L740.1 3169.7L728.2 3251.9L723.7 3251.9L736.6 3169.7L742 3087.5L734.7 3005.3L726.9 2923.1L724.4 2840.9L722.3 2758.7L722.5 2676.5L732.2 2594.3Z" fill="#d3e212" stroke="#d3e212" stroke-width="0.7"/>
<path d="M751.2 2512.1L757.3 2471L757.3 2491.5L754.3 2512.1L737.4 2594.3L726.8 2676.5L726.7 2758.7L729.2 2840.9L731.8 2923.1L740.5 3005.3L748.9 3087.5L743.7 3169.7L732.5 3251.9L728.2 3251.9L740.1 3169.7L745.5 3087.5L737.6 3005.3L729.3 2923.1L726.8 2840.9L724.5 2758.7L724.7 2676.5L734.8 2594.3Z" fill="#e9f009" stroke="#e9f009" stroke-width="0.7"/>
<path d="M754.3 2512.1L757.3 2491.5L757.3 2512.1L757.3 2512.1L740 2594.3L729 2676.5L728.8 2758.7L731.5 2840.9L734.2 2923.1L743.4 3005.3L752.3 3087.5L747.1 3169.7L736.8 3251.9L732.5 3251.9L743.7 3169.7L748.9 3087.5L740.5 3005.3L731.8 2923.1L729.2 2840.9L726.7 2758.7L726.8 2676.5L737.4 2594.3Z" fill="#ffff00" stroke="#ffff00" stroke-width="0.7"/>
<path d="M740 2594.3L757.3 2512.1L757.3 2523.8L742.5 2594.3L731.1 2676.5L730.9 2758.7L733.9 2840.9L736.6 2923.1L746.2 3005.3L755.6 3087.5L750.6 3169.7L741 3251.9L736.8 3251.9L747.1 3169.7L752.3 3087.5L743.4 3005.3L734.2 2923.1L731.5 2840.9L728.8 2758.7L729 2676.5Z" fill="#fff000" stroke="#fff000" stroke-width="0.7"/>
<path d="M742.5 2594.3L757.3 2523.8L757.3 2535.6L745 2594.3L733.2 2676.5L733 2758.7L736.2 2840.9L739 2923.1L749 3005.3L757.3 3075.8L757.3 3087.5L757.3 3114.9L753.9 3169.7L745.2 3251.9L741 3251.9L750.6 3169.7L755.6 3087.5L746.2 3005.3L736.6 2923.1L733.9 2840.9L730.9 2758.7L731.1 2676.5Z" fill="#ffe100" stroke="#ffe100" stroke-width="0.7"/>
<path d="M745 2594.3L757.3 2535.6L757.3 2547.3L747.5 2594.3L735.3 2676.5L735.1 2758.7L738.5 2840.9L741.3 2923.1L751.8 3005.3L757.3 3052.3L757.3 3075.8L749 3005.3L739 2923.1L736.2 2840.9L733 2758.7L733.2 2676.5ZM753.9 3169.7L757.3 3114.9L757.3 3169.7L757.3 3169.7L749.3 3251.9L745.2 3251.9Z" fill="#ffd200" stroke="#ffd200" stroke-width="0.7"/>
<path d="M747.5 2594.3L757.3 2547.3L757.3 2559.1L750 2594.3L737.3 2676.5L737.2 2758.7L740.8 2840.9L743.7 2923.1L754.6 3005.3L757.3 3028.8L757.3 3052.3L751.8 3005.3L741.3 2923.1L738.5 2840.9L735.1 2758.7L735.3 2676.5ZM749.3 3251.9L757.3 3169.7L757.3 3210.8L753.3 3251.9Z" fill="#ffc300" stroke="#ffc300" stroke-width="0.7"/>
<path d="M750 2594.3L757.3 2559.1L757.3 2570.8L752.5 2594.3L739.4 2676.5L739.3 2758.7L743 2840.9L746 2923.1L757.3 3005.3L757.3 3005.3L757.3 3028.8L754.6 3005.3L743.7 2923.1L740.8 2840.9L737.2 2758.7L737.3 2676.5ZM753.3 3251.9L757.3 3210.8L757.3 3251.9Z" fill="#ffb400" stroke="#ffb400" stroke-width="0.7"/>
<path d="M752.5 2594.3L757.3 2570.8L757.3 2582.6L754.9 2594.3L741.4 2676.5L741.4 2758.7L745.3 2840.9L748.3 2923.1L757.3 2988.9L757.3 3005.3L746 2923.1L743 2840.9L739.3 2758.7L739.4 2676.5Z" fill="#ffa500" stroke="#ffa500" stroke-width="0.7"/>
<path d="M754.9 2594.3L757.3 2582.6L757.3 2594.3L757.3 2594.3L743.5 2676.5L743.4 2758.7L747.5 2840.9L750.6 2923.1L757.3 2972.4L757.3 2988.9L748.3 2923.1L745.3 2840.9L741.4 2758.7L741.4 2676.5Z" fill="#ff9600" stroke="#ff9600" stroke-width="0.7"/>
<path d="M743.5 2676.5L757.3 2594.3L757.3 2606L745.5 2676.5L745.4 2758.7L749.7 2840.9L752.8 2923.1L757.3 2956L757.3 2972.4L750.6 2923.1L747.5 2840.9L743.4 2758.7Z" fill="#ff8700" stroke="#ff8700" stroke-width="0.7"/>
<path d="M745.5 2676.5L757.3 2606L757.3 2617.8L747.5 2676.5L747.4 2758.7L751.9 2840.9L755.1 2923.1L757.3 2939.5L757.3 2956L752.8 2923.1L749.7 2840.9L745.4 2758.7Z" fill="#ff7800" stroke="#ff7800" stroke-width="0.7"/>
<path d="M747.5 2676.5L757.3 2617.8L757.3 2629.5L749.5 2676.5L749.4 2758.7L754.1 2840.9L757.3 2923.1L757.3 2923.1L757.3 2939.5L755.1 2923.1L751.9 2840.9L747.4 2758.7Z" fill="#ff6900" stroke="#ff6900" stroke-width="0.7"/>
<path d="M749.5 2676.5L757.3 2629.5L757.3 2641.3L751.5 2676.5L751.4 2758.7L756.2 2840.9L757.3 2868.3L757.3 2923.1L754.1 2840.9L749.4 2758.7Z" fill="#ff5a00" stroke="#ff5a00" stroke-width="0.7"/>
<path d="M751.5 2676.5L757.3 2641.3L757.3 2653L753.4 2676.5L753.4 2758.7L757.3 2824.5L757.3 2840.9L757.3 2868.3L756.2 2840.9L751.4 2758.7Z" fill="#ff4b00" stroke="#ff4b00" stroke-width="0.7"/>
<path d="M753.4 2676.5L757.3 2653L757.3 2664.8L755.4 2676.5L755.4 2758.7L757.3 2791.6L757.3 2824.5L753.4 2758.7Z" fill="#ff3c00" stroke="#ff3c00" stroke-width="0.7"/>
<path d="M755.4 2676.5L757.3 2664.8L757.3 2676.5L757.3 2758.7L757.3 2791.6L755.4 2758.7Z" fill="#ff2d00" stroke="#ff2d00" stroke-width="0.7"/>
<path d="M1485.1 2923.1L1498.1 2915.2L1498.1 2923.1L1498.1 2944.3Z" fill="#282828" stroke="#282828" stroke-width="0.7"/>
<path d="M1468.1 2923.1L1498.1 2905.3L1498.1 2915.2L1485.1 2923.1L1498.1 2944.3L1498.1 2970.8Z" fill="#20204c" stroke="#20204c" stroke-width="0.7"/>
<path d="M1450 2923.1L1498.1 2895.4L1498.1 2905.3L1468.1 2923.1L1498.1 2970.8L1498.1 2997.3Z" fill="#191970" stroke="#191970" stroke-width="0.7"/>
<path d="M1429.3 2923.1L1432.7 2921.9L1498.1 2885.5L1498.1 2895.4L1450 2923.1L1498.1 2997.3L1498.1 3005.3L1498.1 3009.7L1432.7 3006L1429.6 3005.3Z" fill="#1111a0" stroke="#1111a0" stroke-width="0.7"/>
<path d="M1393.5 2923.1L1432.7 2909.8L1498.1 2875.6L1498.1 2885.5L1432.7 2921.9L1429.3 2923.1L1429.6 3005.3L1432.7 3006L1498.1 3009.7L1498.1 3015.9L1432.7 3012.6L1397 3005.3Z" fill="#0808cf" stroke="#0808cf" stroke-width="0.7"/>
<path d="M1352.7 2923.1L1432.7 2897.7L1498.1 2865.7L1498.1 2875.6L1432.7 2909.8L1393.5 2923.1L1397 3005.3L1432.7 3012.6L1498.1 3015.9L1498.1 3022.1L1432.7 3019.2L1360.2 3005.3Z" fill="#0000ff" stroke="#0000ff" stroke-width="0.7"/>
<path d="M1340.8 2923.1L1348.3 2912.1L1432.7 2885.6L1498.1 2855.8L1498.1 2865.7L1432.7 2897.7L1352.7 2923.1L1360.2 3005.3L1432.7 3019.2L1498.1 3022.1L1498.1 3028.3L1432.7 3025.8L1348.3 3011.2L1339.2 3005.3Z" fill="#0026ff" stroke="#0026ff" stroke-width="0.7"/>
<path d="M1332.2 2923.1L1348.3 2899.8L1432.7 2873.5L1498.1 2845.9L1498.1 2855.8L1432.7 2885.6L1348.3 2912.1L1340.8 2923.1L1339.2 3005.3L1348.3 3011.2L1432.7 3025.8L1498.1 3028.3L1498.1 3034.6L1432.7 3032.5L1348.3 3019.7L1325.9 3005.3Z" fill="#004bff" stroke="#004bff" stroke-width="0.7"/>
<path d="M1484.5 2840.9L1498.1 2831.8L1498.1 2840.9L1498.1 2845.9L1432.7 2873.5L1348.3 2899.8L1332.2 2923.1L1325.9 3005.3L1348.3 3019.7L1432.7 3032.5L1498.1 3034.6L1498.1 3040.8L1432.7 3039.1L1348.3 3028.2L1311.8 3005.3L1323.4 2923.1L1348.3 2887.5L1432.7 2861.4Z" fill="#0070ff" stroke="#0070ff" stroke-width="0.7"/>
<path d="M1455.1 2840.9L1498.1 2813.5L1498.1 2831.8L1484.5 2840.9L1432.7 2861.4L1348.3 2887.5L1323.4 2923.1L1311.8 3005.3L1348.3 3028.2L1432.7 3039.1L1498.1 3040.8L1498.1 3047L1432.7 3045.7L1348.3 3036.7L1297.1 3005.3L1314.3 2923.1L1348.3 2875.3L1432.7 2849.4Z" fill="#0096ff" stroke="#0096ff" stroke-width="0.7"/>
<path d="M1422 2840.9L1432.7 2833.4L1498.1 2795.2L1498.1 2813.5L1455.1 2840.9L1432.7 2849.4L1348.3 2875.3L1314.3 2923.1L1297.1 3005.3L1348.3 3036.7L1432.7 3045.7L1498.1 3047L1498.1 3053.2L1432.7 3052.4L1348.3 3045.1L1281.6 3005.3L1305 2923.1L1348.3 2863Z" fill="#0e9dfa" stroke="#0e9dfa" stroke-width="0.7"/>
<path d="M1383.3 2840.9L1432.7 2808.5L1498.1 2777L1498.1 2795.2L1432.7 2833.4L1422 2840.9L1348.3 2863L1305 2923.1L1281.6 3005.3L1348.3 3045.1L1432.7 3052.4L1498.1 3053.2L1498.1 3059.5L1432.7 3059L1348.3 3053.6L1265.2 3005.3L1295.3 2923.1L1348.3 2850.7Z" fill="#1ba4f5" stroke="#1ba4f5" stroke-width="0.7"/>
<path d="M1498.1 2758.7L1498.1 2758.7L1498.1 2758.7L1498.1 2777L1432.7 2808.5L1383.3 2840.9L1348.3 2850.7L1295.3 2923.1L1265.2 3005.3L1348.3 3053.6L1432.7 3059L1498.1 3059.5L1498.1 3065.7L1432.7 3065.6L1348.3 3062.1L1247.8 3005.3L1285.3 2923.1L1344.8 2840.9L1348.3 2832.7L1432.7 2783.6Z" fill="#29abf0" stroke="#29abf0" stroke-width="0.7"/>
<path d="M1458.2 2429.9L1498.1 2366L1498.1 2429.9L1498.1 2512.1L1498.1 2594.3L1498.1 2676.5L1498.1 2758.7L1498.1 2758.7L1432.7 2783.6L1348.3 2832.7L1344.8 2840.9L1285.3 2923.1L1247.8 3005.3L1348.3 3062.1L1432.7 3065.6L1498.1 3065.7L1498.1 3071.9L1432.7 3072.3L1348.3 3070.6L1229.4 3005.3L1229.4 3005.3L1229.4 3005.3L1274.9 2923.1L1326.9 2840.9L1348.3 2791.6L1432.7 2758.7L1432.7 2758.7L1453.9 2676.5L1458.2 2594.3L1458.2 2512.1Z" fill="#36b2eb" stroke="#36b2eb" stroke-width="0.7"/>
<path d="M1393.5 2347.7L1432.7 2347.7L1498.1 2347.7L1498.1 2366L1458.2 2429.9L1458.2 2512.1L1458.2 2594.3L1453.9 2676.5L1432.7 2758.7L1432.7 2758.7L1348.3 2791.6L1326.9 2840.9L1274.9 2923.1L1229.4 3005.3L1229.4 3005.3L1229.4 3005.3L1348.3 3070.6L1432.7 3072.3L1498.1 3071.9L1498.1 3078.2L1432.7 3078.9L1348.3 3079L1229.4 3032.7L1214.6 3005.3L1229.4 2984.8L1264.2 2923.1L1307.9 2840.9L1343.1 2758.7L1348.3 2740.4L1393.5 2676.5L1396.7 2594.3L1396.7 2512.1L1393.5 2429.9Z" fill="#44b9e6" stroke="#44b9e6" stroke-width="0.7"/>
<path d="M1331.5 2347.7L1348.3 2347.7L1393.5 2347.7L1393.5 2429.9L1396.7 2512.1L1396.7 2594.3L1393.5 2676.5L1348.3 2740.4L1343.1 2758.7L1307.9 2840.9L1264.2 2923.1L1229.4 2984.8L1214.6 3005.3L1229.4 3032.7L1348.3 3079L1432.7 3078.9L1498.1 3078.2L1498.1 3084.4L1432.7 3085.5L1348.3 3087.5L1348.3 3087.5L1348.3 3087.5L1229.4 3060.1L1199.1 3005.3L1229.4 2964.2L1253 2923.1L1287.5 2840.9L1315.7 2758.7L1338.7 2676.5L1338.7 2594.3L1338.3 2512.1L1331.5 2429.9Z" fill="#36c7eb" stroke="#36c7eb" stroke-width="0.7"/>
<path d="M1284.9 2347.7L1331.5 2347.7L1331.5 2429.9L1338.3 2512.1L1338.7 2594.3L1338.7 2676.5L1315.7 2758.7L1287.5 2840.9L1253 2923.1L1229.4 2964.2L1199.1 3005.3L1229.4 3060.1L1348.3 3087.5L1348.3 3087.5L1348.3 3087.5L1432.7 3085.5L1498.1 3084.4L1498.1 3087.5L1498.1 3090.7L1432.7 3091.6L1348.3 3092.9L1229.4 3087.5L1229.4 3087.5L1182.7 3005.3L1229.4 2943.7L1241.4 2923.1L1265.6 2840.9L1285.4 2758.7L1304.1 2676.5L1304.1 2594.3L1302.5 2512.1L1284.9 2429.9Z" fill="#29d5f0" stroke="#29d5f0" stroke-width="0.7"/>
<path d="M1229.4 2347.7L1229.4 2347.7L1284.9 2347.7L1284.9 2429.9L1302.5 2512.1L1304.1 2594.3L1304.1 2676.5L1285.4 2758.7L1265.6 2840.9L1241.4 2923.1L1229.4 2943.7L1182.7 3005.3L1229.4 3087.5L1229.4 3087.5L1348.3 3092.9L1432.7 3091.6L1498.1 3090.7L1498.1 3097L1432.7 3097.5L1348.3 3098.2L1229.4 3092.3L1193.1 3087.5L1165.3 3005.3L1229.4 2923.1L1229.4 2923.1L1241.9 2840.9L1251.6 2758.7L1264.9 2676.5L1264.9 2594.3L1261.7 2512.1L1229.4 2429.9L1229.4 2429.9Z" fill="#1be3f5" stroke="#1be3f5" stroke-width="0.7"/>
<path d="M1198.4 2347.7L1229.4 2347.7L1229.4 2429.9L1229.4 2429.9L1261.7 2512.1L1264.9 2594.3L1264.9 2676.5L1251.6 2758.7L1241.9 2840.9L1229.4 2923.1L1229.4 2923.1L1165.3 3005.3L1193.1 3087.5L1229.4 3092.3L1348.3 3098.2L1432.7 3097.5L1498.1 3097L1498.1 3103.3L1432.7 3103.4L1348.3 3103.6L1229.4 3097.2L1151.7 3087.5L1146.9 3005.3L1212.6 2923.1L1221.7 2840.9L1222.5 2758.7L1224.6 2676.5L1223.9 2594.3L1220.2 2512.1L1198.4 2429.9Z" fill="#0ef1fa" stroke="#0ef1fa" stroke-width="0.7"/>
<path d="M1163.9 2347.7L1198.4 2347.7L1198.4 2429.9L1220.2 2512.1L1223.9 2594.3L1224.6 2676.5L1222.5 2758.7L1221.7 2840.9L1212.6 2923.1L1146.9 3005.3L1151.7 3087.5L1229.4 3097.2L1348.3 3103.6L1432.7 3103.4L1498.1 3103.3L1498.1 3109.6L1432.7 3109.2L1348.3 3109L1229.4 3102L1103.5 3087.5L1127.2 3005.3L1194.8 2923.1L1205.7 2840.9L1204.7 2758.7L1199.5 2676.5L1194.8 2594.3L1187.6 2512.1L1163.9 2429.9Z" fill="#00ffff" stroke="#00ffff" stroke-width="0.7"/>
<path d="M1124.7 2347.7L1163.9 2347.7L1163.9 2429.9L1187.6 2512.1L1194.8 2594.3L1199.5 2676.5L1204.7 2758.7L1205.7 2840.9L1194.8 2923.1L1127.2 3005.3L1103.5 3087.5L1229.4 3102L1348.3 3109L1432.7 3109.2L1498.1 3109.6L1498.1 3116L1432.7 3115.1L1348.3 3114.4L1229.4 3106.8L1045.8 3087.5L1106.1 3005.3L1175.9 2923.1L1188.9 2840.9L1185.8 2758.7L1172.1 2676.5L1162.5 2594.3L1150.9 2512.1L1124.7 2429.9Z" fill="#00ffcc" stroke="#00ffcc" stroke-width="0.7"/>
<path d="M1079.5 2347.7L1124.7 2347.7L1124.7 2429.9L1150.9 2512.1L1162.5 2594.3L1172.1 2676.5L1185.8 2758.7L1188.9 2840.9L1175.9 2923.1L1106.1 3005.3L1045.8 3087.5L1229.4 3106.8L1348.3 3114.4L1432.7 3115.1L1498.1 3116L1498.1 3122.3L1432.7 3121L1348.3 3119.7L1229.4 3111.7L1026.1 3090.3L1022.5 3087.5L1026.1 3067.7L1083.3 3005.3L1155.6 2923.1L1171 2840.9L1165.6 2758.7L1141.8 2676.5L1126.3 2594.3L1108.9 2512.1L1079.5 2429.9Z" fill="#00ff99" stroke="#00ff99" stroke-width="0.7"/>
<path d="M1026.1 2347.7L1026.1 2347.7L1079.5 2347.7L1079.5 2429.9L1108.9 2512.1L1126.3 2594.3L1141.8 2676.5L1165.6 2758.7L1171 2840.9L1155.6 2923.1L1083.3 3005.3L1026.1 3067.7L1022.5 3087.5L1026.1 3090.3L1229.4 3111.7L1348.3 3119.7L1432.7 3121L1498.1 3122.3L1498.1 3128.6L1432.7 3126.8L1348.3 3125.1L1229.4 3116.5L1026.1 3094.4L1017.3 3087.5L1026.1 3039.3L1058.7 3005.3L1133.9 2923.1L1151.9 2840.9L1143.8 2758.7L1108.1 2676.5L1084.9 2594.3L1059.9 2512.1L1026.1 2429.9L1026.1 2429.9Z" fill="#00ff66" stroke="#00ff66" stroke-width="0.7"/>
<path d="M1018.1 2347.7L1026.1 2347.7L1026.1 2429.9L1026.1 2429.9L1059.9 2512.1L1084.9 2594.3L1108.1 2676.5L1143.8 2758.7L1151.9 2840.9L1133.9 2923.1L1058.7 3005.3L1026.1 3039.3L1017.3 3087.5L1026.1 3094.4L1229.4 3116.5L1348.3 3125.1L1432.7 3126.8L1498.1 3128.6L1498.1 3134.9L1432.7 3132.7L1348.3 3130.5L1229.4 3121.3L1026.1 3098.5L1012.1 3087.5L1026.1 3011L1031.7 3005.3L1110.4 2923.1L1131.6 2840.9L1120.4 2758.7L1069.9 2676.5L1036.7 2594.3L1026.1 2566.9L1024.2 2512.1L1020 2429.9Z" fill="#00ff33" stroke="#00ff33" stroke-width="0.7"/>
<path d="M1010 2347.7L1018.1 2347.7L1020 2429.9L1024.2 2512.1L1026.1 2566.9L1036.7 2594.3L1069.9 2676.5L1120.4 2758.7L1131.6 2840.9L1110.4 2923.1L1031.7 3005.3L1026.1 3011L1012.1 3087.5L1026.1 3098.5L1229.4 3121.3L1348.3 3130.5L1432.7 3132.7L1498.1 3134.9L1498.1 3141.2L1432.7 3138.6L1348.3 3135.9L1229.4 3126.2L1026.1 3102.6L1006.7 3087.5L1022.5 3005.3L1026.1 2981.8L1084.9 2923.1L1109.7 2840.9L1094.9 2758.7L1026.1 2676.5L1026.1 2676.5L1023.5 2594.3L1019.4 2512.1L1013.8 2429.9Z" fill="#00ff00" stroke="#00ff00" stroke-width="0.7"/>
<path d="M1001.6 2347.7L1010 2347.7L1013.8 2429.9L1019.4 2512.1L1023.5 2594.3L1026.1 2676.5L1026.1 2676.5L1094.9 2758.7L1109.7 2840.9L1084.9 2923.1L1026.1 2981.8L1022.5 3005.3L1006.7 3087.5L1026.1 3102.6L1229.4 3126.2L1348.3 3135.9L1432.7 3138.6L1498.1 3141.2L1498.1 3147.6L1432.7 3144.5L1348.3 3141.2L1229.4 3131L1026.1 3106.6L1001.3 3087.5L1017.9 3005.3L1026.1 2952.5L1057 2923.1L1086 2840.9L1066.9 2758.7L1026.1 2712.2L1023.6 2676.5L1020.3 2594.3L1014.5 2512.1L1007.4 2429.9Z" fill="#11f308" stroke="#11f308" stroke-width="0.7"/>
<path d="M993 2347.7L1001.6 2347.7L1007.4 2429.9L1014.5 2512.1L1020.3 2594.3L1023.6 2676.5L1026.1 2712.2L1066.9 2758.7L1086 2840.9L1057 2923.1L1026.1 2952.5L1017.9 3005.3L1001.3 3087.5L1026.1 3106.6L1229.4 3131L1348.3 3141.2L1432.7 3144.5L1498.1 3147.6L1498.1 3153.9L1432.7 3150.3L1348.3 3146.6L1229.4 3135.9L1026.1 3110.7L995.7 3087.5L1013.3 3005.3L1026.1 2923.1L1026.1 2923.1L1060.3 2840.9L1036 2758.7L1026.1 2748L1021.1 2676.5L1017 2594.3L1009.6 2512.1L1000.9 2429.9Z" fill="#23e610" stroke="#23e610" stroke-width="0.7"/>
<path d="M984.1 2347.7L993 2347.7L1000.9 2429.9L1009.6 2512.1L1017 2594.3L1021.1 2676.5L1026.1 2748L1036 2758.7L1060.3 2840.9L1026.1 2923.1L1026.1 2923.1L1013.3 3005.3L995.7 3087.5L1026.1 3110.7L1229.4 3135.9L1348.3 3146.6L1432.7 3150.3L1498.1 3153.9L1498.1 3160.2L1432.7 3156.2L1348.3 3152L1229.4 3140.7L1026.1 3114.8L990 3087.5L1008.6 3005.3L1021.8 2923.1L1026.1 2854.6L1032 2840.9L1026.1 2822.6L1024 2758.7L1018.6 2676.5L1013.7 2594.3L1004.5 2512.1L994.3 2429.9Z" fill="#34da18" stroke="#34da18" stroke-width="0.7"/>
<path d="M974.9 2347.7L984.1 2347.7L994.3 2429.9L1004.5 2512.1L1013.7 2594.3L1018.6 2676.5L1024 2758.7L1026.1 2822.6L1032 2840.9L1026.1 2854.6L1021.8 2923.1L1008.6 3005.3L990 3087.5L1026.1 3114.8L1229.4 3140.7L1348.3 3152L1432.7 3156.2L1498.1 3160.2L1498.1 3166.5L1432.7 3162.1L1348.3 3157.3L1229.4 3145.5L1026.1 3118.8L984.3 3087.5L1003.8 3005.3L1017.5 2923.1L1023.4 2840.9L1021.2 2758.7L1016.1 2676.5L1010.3 2594.3L999.4 2512.1L987.5 2429.9Z" fill="#46cd1f" stroke="#46cd1f" stroke-width="0.7"/>
<path d="M965.5 2347.7L974.9 2347.7L987.5 2429.9L999.4 2512.1L1010.3 2594.3L1016.1 2676.5L1021.2 2758.7L1023.4 2840.9L1017.5 2923.1L1003.8 3005.3L984.3 3087.5L1026.1 3118.8L1229.4 3145.5L1348.3 3157.3L1432.7 3162.1L1498.1 3166.5L1498.1 3169.7L1498.1 3174.8L1458.9 3169.7L1432.7 3167.9L1348.3 3162.7L1229.4 3150.4L1026.1 3122.9L978.4 3087.5L999 3005.3L1013.2 2923.1L1020 2840.9L1018.2 2758.7L1013.6 2676.5L1007 2594.3L994.2 2512.1L980.6 2429.9Z" fill="#57c127" stroke="#57c127" stroke-width="0.7"/>
<path d="M955.7 2347.7L965.5 2347.7L980.6 2429.9L994.2 2512.1L1007 2594.3L1013.6 2676.5L1018.2 2758.7L1020 2840.9L1013.2 2923.1L999 3005.3L978.4 3087.5L1026.1 3122.9L1229.4 3150.4L1348.3 3162.7L1432.7 3167.9L1458.9 3169.7L1498.1 3174.8L1498.1 3185.1L1432.7 3176.7L1376.2 3169.7L1348.3 3168.1L1229.4 3155.2L1026.1 3127L972.4 3087.5L994 3005.3L1008.8 2923.1L1016.6 2840.9L1015.3 2758.7L1011 2676.5L1003.5 2594.3L988.9 2512.1L973.5 2429.9Z" fill="#69b42f" stroke="#69b42f" stroke-width="0.7"/>
<path d="M945.6 2347.7L955.7 2347.7L973.5 2429.9L988.9 2512.1L1003.5 2594.3L1011 2676.5L1015.3 2758.7L1016.6 2840.9L1008.8 2923.1L994 3005.3L972.4 3087.5L1026.1 3127L1229.4 3155.2L1348.3 3168.1L1376.2 3169.7L1432.7 3176.7L1498.1 3185.1L1498.1 3195.4L1432.7 3186.7L1348.3 3176.3L1321.8 3169.7L1229.4 3160L1026.1 3131L966.2 3087.5L989 3005.3L1004.3 2923.1L1013.2 2840.9L1012.3 2758.7L1008.4 2676.5L1000.1 2594.3L983.5 2512.1L966.2 2429.9Z" fill="#7aa837" stroke="#7aa837" stroke-width="0.7"/>
<path d="M935.1 2347.7L945.6 2347.7L966.2 2429.9L983.5 2512.1L1000.1 2594.3L1008.4 2676.5L1012.3 2758.7L1013.2 2840.9L1004.3 2923.1L989 3005.3L966.2 3087.5L1026.1 3131L1229.4 3160L1321.8 3169.7L1348.3 3176.3L1432.7 3186.7L1498.1 3195.4L1498.1 3205.7L1432.7 3196.8L1348.3 3185.8L1279.2 3169.7L1229.4 3164.9L1026.1 3135.1L960 3087.5L983.9 3005.3L999.8 2923.1L1009.7 2840.9L1009.3 2758.7L1005.8 2676.5L996.6 2594.3L978 2512.1L958.7 2429.9Z" fill="#90b62e" stroke="#90b62e" stroke-width="0.7"/>
<path d="M924.2 2347.7L935.1 2347.7L958.7 2429.9L978 2512.1L996.6 2594.3L1005.8 2676.5L1009.3 2758.7L1009.7 2840.9L999.8 2923.1L983.9 3005.3L960 3087.5L1026.1 3135.1L1229.4 3164.9L1279.2 3169.7L1348.3 3185.8L1432.7 3196.8L1498.1 3205.7L1498.1 3215.9L1432.7 3206.8L1348.3 3195.2L1229.4 3169.7L1229.4 3169.7L1026.1 3139.2L953.6 3087.5L978.7 3005.3L995.1 2923.1L1006.2 2840.9L1006.3 2758.7L1003.2 2676.5L993 2594.3L972.4 2512.1L951 2429.9Z" fill="#a6c525" stroke="#a6c525" stroke-width="0.7"/>
<path d="M912.9 2347.7L924.2 2347.7L951 2429.9L972.4 2512.1L993 2594.3L1003.2 2676.5L1006.3 2758.7L1006.2 2840.9L995.1 2923.1L978.7 3005.3L953.6 3087.5L1026.1 3139.2L1229.4 3169.7L1229.4 3169.7L1348.3 3195.2L1432.7 3206.8L1498.1 3215.9L1498.1 3226.2L1432.7 3216.8L1348.3 3204.7L1229.4 3178.4L1209.1 3169.7L1026.1 3143.2L947 3087.5L973.4 3005.3L990.5 2923.1L1002.7 2840.9L1003.2 2758.7L1000.5 2676.5L989.4 2594.3L966.7 2512.1L943.2 2429.9Z" fill="#bcd41c" stroke="#bcd41c" stroke-width="0.7"/>
<path d="M901.2 2347.7L912.9 2347.7L943.2 2429.9L966.7 2512.1L989.4 2594.3L1000.5 2676.5L1003.2 2758.7L1002.7 2840.9L990.5 2923.1L973.4 3005.3L947 3087.5L1026.1 3143.2L1209.1 3169.7L1229.4 3178.4L1348.3 3204.7L1432.7 3216.8L1498.1 3226.2L1498.1 3236.5L1432.7 3226.8L1348.3 3214.1L1229.4 3187L1187.4 3169.7L1026.1 3147.3L940.3 3087.5L968 3005.3L985.7 2923.1L999.1 2840.9L1000.1 2758.7L997.9 2676.5L985.8 2594.3L960.9 2512.1L935.1 2429.9Z" fill="#d3e212" stroke="#d3e212" stroke-width="0.7"/>
<path d="M889 2347.7L901.2 2347.7L935.1 2429.9L960.9 2512.1L985.8 2594.3L997.9 2676.5L1000.1 2758.7L999.1 2840.9L985.7 2923.1L968 3005.3L940.3 3087.5L1026.1 3147.3L1187.4 3169.7L1229.4 3187L1348.3 3214.1L1432.7 3226.8L1498.1 3236.5L1498.1 3246.8L1432.7 3236.9L1348.3 3223.6L1229.4 3195.7L1163.9 3169.7L1026.1 3151.4L933.5 3087.5L962.5 3005.3L980.8 2923.1L995.4 2840.9L997 2758.7L995.1 2676.5L982.1 2594.3L955 2512.1L926.8 2429.9Z" fill="#e9f009" stroke="#e9f009" stroke-width="0.7"/>
<path d="M876.2 2347.7L889 2347.7L926.8 2429.9L955 2512.1L982.1 2594.3L995.1 2676.5L997 2758.7L995.4 2840.9L980.8 2923.1L962.5 3005.3L933.5 3087.5L1026.1 3151.4L1163.9 3169.7L1229.4 3195.7L1348.3 3223.6L1432.7 3236.9L1498.1 3246.8L1498.1 3251.9L1467.2 3251.9L1432.7 3246.9L1348.3 3233L1229.4 3204.3L1138.4 3169.7L1026.1 3155.5L926.5 3087.5L957 3005.3L975.9 2923.1L991.7 2840.9L993.8 2758.7L992.4 2676.5L978.4 2594.3L948.9 2512.1L918.2 2429.9L876.2 2347.7Z" fill="#ffff00" stroke="#ffff00" stroke-width="0.7"/>
<path d="M876.2 2366L876.2 2347.7L918.2 2429.9L948.9 2512.1L978.4 2594.3L992.4 2676.5L993.8 2758.7L991.7 2840.9L975.9 2923.1L957 3005.3L926.5 3087.5L1026.1 3155.5L1138.4 3169.7L1229.4 3204.3L1348.3 3233L1432.7 3246.9L1467.2 3251.9L1432.7 3251.9L1407.1 3251.9L1348.3 3242.5L1229.4 3213L1110.4 3169.7L1026.1 3159.5L919.3 3087.5L951.3 3005.3L970.9 2923.1L988 2840.9L990.6 2758.7L989.7 2676.5L974.6 2594.3L942.7 2512.1L909.4 2429.9Z" fill="#fff000" stroke="#fff000" stroke-width="0.7"/>
<path d="M876.2 2384.2L876.2 2366L909.4 2429.9L942.7 2512.1L974.6 2594.3L989.7 2676.5L990.6 2758.7L988 2840.9L970.9 2923.1L951.3 3005.3L919.3 3087.5L1026.1 3159.5L1110.4 3169.7L1229.4 3213L1348.3 3242.5L1407.1 3251.9L1348.3 3251.9L1348.3 3251.9L1229.4 3221.6L1079.5 3169.7L1026.1 3163.6L911.9 3087.5L945.4 3005.3L965.8 2923.1L984.2 2840.9L987.4 2758.7L986.9 2676.5L970.8 2594.3L936.4 2512.1L900.3 2429.9Z" fill="#ffe100" stroke="#ffe100" stroke-width="0.7"/>
<path d="M876.2 2402.5L876.2 2384.2L900.3 2429.9L936.4 2512.1L970.8 2594.3L986.9 2676.5L987.4 2758.7L984.2 2840.9L965.8 2923.1L945.4 3005.3L911.9 3087.5L1026.1 3163.6L1079.5 3169.7L1229.4 3221.6L1348.3 3251.9L1318.9 3251.9L1229.4 3230.3L1045 3169.7L1026.1 3167.7L904.3 3087.5L939.5 3005.3L960.6 2923.1L980.4 2840.9L984.1 2758.7L984.1 2676.5L966.9 2594.3L929.9 2512.1L890.9 2429.9Z" fill="#ffd200" stroke="#ffd200" stroke-width="0.7"/>
<path d="M876.2 2420.8L876.2 2402.5L890.9 2429.9L929.9 2512.1L966.9 2594.3L984.1 2676.5L984.1 2758.7L980.4 2840.9L960.6 2923.1L939.5 3005.3L904.3 3087.5L1026.1 3167.7L1045 3169.7L1229.4 3230.3L1318.9 3251.9L1286.3 3251.9L1229.4 3238.9L1026.1 3171.4L1010.2 3169.7L896.6 3087.5L933.5 3005.3L955.3 2923.1L976.5 2840.9L980.8 2758.7L981.2 2676.5L963 2594.3L923.3 2512.1L881.2 2429.9Z" fill="#ffc300" stroke="#ffc300" stroke-width="0.7"/>
<path d="M876.2 2429.9L876.2 2420.8L881.2 2429.9L923.3 2512.1L963 2594.3L981.2 2676.5L980.8 2758.7L976.5 2840.9L955.3 2923.1L933.5 3005.3L896.6 3087.5L1010.2 3169.7L1026.1 3171.4L1229.4 3238.9L1286.3 3251.9L1249.6 3251.9L1229.4 3247.6L1026.1 3174.8L975.6 3169.7L888.6 3087.5L927.3 3005.3L949.9 2923.1L972.5 2840.9L977.4 2758.7L978.4 2676.5L959 2594.3L916.5 2512.1L876.2 2436.8Z" fill="#ffb400" stroke="#ffb400" stroke-width="0.7"/>
<path d="M876.2 2450.4L876.2 2436.8L916.5 2512.1L959 2594.3L978.4 2676.5L977.4 2758.7L972.5 2840.9L949.9 2923.1L927.3 3005.3L888.6 3087.5L975.6 3169.7L1026.1 3174.8L1229.4 3247.6L1249.6 3251.9L1229.4 3251.9L1226 3251.9L1026.1 3178.3L936.5 3169.7L880.4 3087.5L921 3005.3L944.5 2923.1L968.5 2840.9L974 2758.7L975.5 2676.5L955 2594.3L909.6 2512.1Z" fill="#ffa500" stroke="#ffa500" stroke-width="0.7"/>
<path d="M876.2 2464.2L876.2 2450.4L909.6 2512.1L955 2594.3L975.5 2676.5L974 2758.7L968.5 2840.9L944.5 2923.1L921 3005.3L880.4 3087.5L936.5 3169.7L1026.1 3178.3L1226 3251.9L1219.2 3251.9L1026.1 3181.7L891.3 3169.7L876.2 3138.9L876.2 3087.5L876.2 3080.7L914.5 3005.3L938.9 2923.1L964.5 2840.9L970.6 2758.7L972.6 2676.5L950.9 2594.3L902.5 2512.1Z" fill="#ff9600" stroke="#ff9600" stroke-width="0.7"/>
<path d="M876.2 2477.8L876.2 2464.2L902.5 2512.1L950.9 2594.3L972.6 2676.5L970.6 2758.7L964.5 2840.9L938.9 2923.1L914.5 3005.3L876.2 3080.7L876.2 3066.9L907.9 3005.3L933.2 2923.1L960.4 2840.9L967.1 2758.7L969.6 2676.5L946.7 2594.3L895.2 2512.1ZM876.2 3169.7L876.2 3138.9L891.3 3169.7L1026.1 3181.7L1219.2 3251.9L1212.2 3251.9L1026.1 3185.1L876.2 3177.2Z" fill="#ff8700" stroke="#ff8700" stroke-width="0.7"/>
<path d="M876.2 2491.5L876.2 2477.8L895.2 2512.1L946.7 2594.3L969.6 2676.5L967.1 2758.7L960.4 2840.9L933.2 2923.1L907.9 3005.3L876.2 3066.9L876.2 3053.2L901.2 3005.3L927.4 2923.1L956.2 2840.9L963.6 2758.7L966.6 2676.5L942.5 2594.3L887.8 2512.1ZM876.2 3187.8L876.2 3177.2L1026.1 3185.1L1212.2 3251.9L1205 3251.9L1026.1 3188.5Z" fill="#ff7800" stroke="#ff7800" stroke-width="0.7"/>
<path d="M876.2 2505.2L876.2 2491.5L887.8 2512.1L942.5 2594.3L966.6 2676.5L963.6 2758.7L956.2 2840.9L927.4 2923.1L901.2 3005.3L876.2 3053.2L876.2 3039.6L894.2 3005.3L921.4 2923.1L952 2840.9L960.1 2758.7L963.6 2676.5L938.3 2594.3L880.1 2512.1ZM876.2 3198.5L876.2 3187.8L1026.1 3188.5L1205 3251.9L1197.7 3251.9L1026.1 3192Z" fill="#ff6900" stroke="#ff6900" stroke-width="0.7"/>
<path d="M876.2 2512.1L876.2 2505.2L880.1 2512.1L938.3 2594.3L963.6 2676.5L960.1 2758.7L952 2840.9L921.4 2923.1L894.2 3005.3L876.2 3039.6L876.2 3025.8L887.2 3005.3L915.4 2923.1L947.7 2840.9L956.5 2758.7L960.6 2676.5L933.9 2594.3L876.2 2515.4ZM876.2 3209.2L876.2 3198.5L1026.1 3192L1197.7 3251.9L1190.2 3251.9L1026.1 3195.4Z" fill="#ff5a00" stroke="#ff5a00" stroke-width="0.7"/>
<path d="M876.2 2522L876.2 2515.4L933.9 2594.3L960.6 2676.5L956.5 2758.7L947.7 2840.9L915.4 2923.1L887.2 3005.3L876.2 3025.8L876.2 3012.2L879.9 3005.3L909.2 2923.1L943.4 2840.9L952.8 2758.7L957.5 2676.5L929.5 2594.3ZM876.2 3219.9L876.2 3209.2L1026.1 3195.4L1190.2 3251.9L1182.5 3251.9L1026.1 3198.8Z" fill="#ff4b00" stroke="#ff4b00" stroke-width="0.7"/>
<path d="M876.2 2528.5L876.2 2522L929.5 2594.3L957.5 2676.5L952.8 2758.7L943.4 2840.9L909.2 2923.1L879.9 3005.3L876.2 3012.2L876.2 3005.3L876.2 2996.2L902.9 2923.1L939 2840.9L949.1 2758.7L954.4 2676.5L925.1 2594.3ZM876.2 3230.5L876.2 3219.9L1026.1 3198.8L1182.5 3251.9L1174.5 3251.9L1026.1 3202.2Z" fill="#ff3c00" stroke="#ff3c00" stroke-width="0.7"/>
<path d="M876.2 2535.1L876.2 2528.5L925.1 2594.3L954.4 2676.5L949.1 2758.7L939 2840.9L902.9 2923.1L876.2 2996.2L876.2 2977.9L896.5 2923.1L934.5 2840.9L945.4 2758.7L951.3 2676.5L920.5 2594.3ZM876.2 3241.2L876.2 3230.5L1026.1 3202.2L1174.5 3251.9L1166.4 3251.9L1026.1 3205.7Z" fill="#ff2d00" stroke="#ff2d00" stroke-width="0.7"/>
<path d="M876.2 2541.7L876.2 2535.1L920.5 2594.3L951.3 2676.5L945.4 2758.7L934.5 2840.9L896.5 2923.1L876.2 2977.9L876.2 2959.6L889.9 2923.1L929.9 2840.9L941.6 2758.7L948.1 2676.5L915.9 2594.3ZM876.2 3251.9L876.2 3241.2L1026.1 3205.7L1166.4 3251.9L1158 3251.9L1026.1 3209.1L876.2 3251.9Z" fill="#ff1e00" stroke="#ff1e00" stroke-width="0.7"/>
<path d="M876.2 2548.3L876.2 2541.7L915.9 2594.3L948.1 2676.5L941.6 2758.7L929.9 2840.9L889.9 2923.1L876.2 2959.6L876.2 2941.4L883.1 2923.1L925.3 2840.9L937.8 2758.7L944.9 2676.5L911.2 2594.3ZM876.2 3251.9L1026.1 3209.1L1158 3251.9L1149.4 3251.9L1026.1 3212.5L891.5 3251.9Z" fill="#ff0f00" stroke="#ff0f00" stroke-width="0.7"/>
<path d="M876.2 2554.8L876.2 2548.3L911.2 2594.3L944.9 2676.5L937.8 2758.7L925.3 2840.9L883.1 2923.1L876.2 2941.4L876.2 2923.1L876.2 2923.1L920.6 2840.9L933.9 2758.7L941.7 2676.5L906.5 2594.3ZM891.5 3251.9L1026.1 3212.5L1149.4 3251.9L1140.5 3251.9L1026.1 3215.9L906 3251.9Z" fill="#ff0000" stroke="#ff0000" stroke-width="0.7"/>
<path d="M876.2 2561.4L876.2 2554.8L906.5 2594.3L941.7 2676.5L933.9 2758.7L920.6 2840.9L876.2 2923.1L876.2 2913.7L915.8 2840.9L930 2758.7L938.4 2676.5L901.7 2594.3ZM906 3251.9L1026.1 3215.9L1140.5 3251.9L1131.3 3251.9L1026.1 3219.4L919.8 3251.9Z" fill="#e50a1d" stroke="#e50a1d" stroke-width="0.7"/>
<path d="M876.2 2568L876.2 2561.4L901.7 2594.3L938.4 2676.5L930 2758.7L915.8 2840.9L876.2 2913.7L876.2 2904.2L911 2840.9L926 2758.7L935.1 2676.5L896.7 2594.3ZM919.8 3251.9L1026.1 3219.4L1131.3 3251.9L1121.9 3251.9L1026.1 3222.8L932.9 3251.9Z" fill="#cb133a" stroke="#cb133a" stroke-width="0.7"/>
<path d="M876.2 2574.6L876.2 2568L896.7 2594.3L935.1 2676.5L926 2758.7L911 2840.9L876.2 2904.2L876.2 2894.8L906.1 2840.9L921.9 2758.7L931.7 2676.5L891.7 2594.3ZM932.9 3251.9L1026.1 3222.8L1121.9 3251.9L1112.1 3251.9L1026.1 3226.2L945.6 3251.9Z" fill="#b11d57" stroke="#b11d57" stroke-width="0.7"/>
<path d="M876.2 2581.1L876.2 2574.6L891.7 2594.3L931.7 2676.5L921.9 2758.7L906.1 2840.9L876.2 2894.8L876.2 2885.3L901 2840.9L917.8 2758.7L928.3 2676.5L886.7 2594.3ZM945.6 3251.9L1026.1 3226.2L1112.1 3251.9L1102 3251.9L1026.1 3229.6L957.7 3251.9Z" fill="#972674" stroke="#972674" stroke-width="0.7"/>
<path d="M876.2 2587.7L876.2 2581.1L886.7 2594.3L928.3 2676.5L917.8 2758.7L901 2840.9L876.2 2885.3L876.2 2875.9L895.9 2840.9L913.7 2758.7L924.9 2676.5L881.5 2594.3ZM957.7 3251.9L1026.1 3229.6L1102 3251.9L1091.5 3251.9L1026.1 3233.1L969.3 3251.9Z" fill="#7d3091" stroke="#7d3091" stroke-width="0.7"/>
<path d="M876.2 2594.3L876.2 2587.7L881.5 2594.3L924.9 2676.5L913.7 2758.7L895.9 2840.9L876.2 2875.9L876.2 2866.4L890.7 2840.9L909.5 2758.7L921.4 2676.5L876.2 2594.3ZM969.3 3251.9L1026.1 3233.1L1091.5 3251.9L1080.6 3251.9L1026.1 3236.5L980.4 3251.9Z" fill="#9e24ac" stroke="#9e24ac" stroke-width="0.7"/>
<path d="M876.2 2601.2L876.2 2594.3L921.4 2676.5L909.5 2758.7L890.7 2840.9L876.2 2866.4L876.2 2857L885.4 2840.9L905.2 2758.7L917.9 2676.5ZM980.4 3251.9L1026.1 3236.5L1080.6 3251.9L1069.4 3251.9L1026.1 3239.9L991.2 3251.9Z" fill="#be18c8" stroke="#be18c8" stroke-width="0.7"/>
<path d="M876.2 2608L876.2 2601.2L917.9 2676.5L905.2 2758.7L885.4 2840.9L876.2 2857L876.2 2847.5L880.1 2840.9L900.9 2758.7L914.4 2676.5ZM991.2 3251.9L1026.1 3239.9L1069.4 3251.9L1057.6 3251.9L1026.1 3243.3L1001.6 3251.9Z" fill="#de0ce4" stroke="#de0ce4" stroke-width="0.7"/>
<path d="M876.2 2676.5L876.2 2608L914.4 2676.5L900.9 2758.7L880.1 2840.9L876.2 2847.5L876.2 2840.9L876.2 2758.7ZM1001.6 3251.9L1026.1 3243.3L1057.6 3251.9L1026.1 3251.9Z" fill="#ff00ff" stroke="#ff00ff" stroke-width="0.7"/>
<path d="M554 2347.7V3251.9M672.9 2347.7V3251.9M757.3 2347.7V3251.9M822.7 2347.7V3251.9M876.2 2347.7V3251.9M1026.1 2347.7V3251.9M1229.4 2347.7V3251.9M1348.3 2347.7V3251.9M1432.7 2347.7V3251.9M350.7 3169.7H1498.1M350.7 3087.5H1498.1M350.7 3005.3H1498.1M350.7 2923.1H1498.1M350.7 2840.9H1498.1M350.7 2758.7H1498.1M350.7 2676.5H1498.1M350.7 2594.3H1498.1M350.7 2512.1H1498.1M350.7 2429.9H1498.1" stroke="#262626" stroke-opacity="0.15" stroke-width="1.3" fill="none"/>
<g stroke="#fff" stroke-width="10.5" stroke-dasharray="37 37.5"><line x1="350.7" y1="3187.8" x2="554" y2="3171.8"/><line x1="554" y1="3171.8" x2="672.9" y2="3159.5"/><line x1="672.9" y1="3159.5" x2="757.3" y2="3149.1"/><line x1="757.3" y1="3149.1" x2="876.2" y2="3131.7"/><line x1="876.2" y1="3131.7" x2="1026.1" y2="3104.1"/><line x1="1026.1" y1="3104.1" x2="1229.4" y2="3053.4"/><line x1="1229.4" y1="3053.4" x2="1348.3" y2="3014.5"/><line x1="1348.3" y1="3014.5" x2="1432.7" y2="2981.7"/><line x1="1432.7" y1="2981.7" x2="1498.1" y2="2952.8"/></g>
<rect x="350.7" y="2347.7" width="1147.4" height="904.2" fill="none" stroke="#262626" stroke-width="1.6"/>
<path d="M554 3251.9v-11M554 2347.7v11M672.9 3251.9v-11M672.9 2347.7v11M757.3 3251.9v-11M757.3 2347.7v11M822.7 3251.9v-11M822.7 2347.7v11M876.2 3251.9v-11M876.2 2347.7v11M1026.1 3251.9v-11M1026.1 2347.7v11M1229.4 3251.9v-11M1229.4 2347.7v11M1348.3 3251.9v-11M1348.3 2347.7v11M1432.7 3251.9v-11M1432.7 2347.7v11M469.6 3251.9v-6M469.6 2347.7v6M619.4 3251.9v-6M619.4 2347.7v6M718.1 3251.9v-6M718.1 2347.7v6M791.8 3251.9v-6M791.8 2347.7v6M1145 3251.9v-6M1145 2347.7v6M1294.8 3251.9v-6M1294.8 2347.7v6M1393.5 3251.9v-6M1393.5 2347.7v6M1467.2 3251.9v-6M1467.2 2347.7v6M350.7 3169.7h11M1498.1 3169.7h-11M350.7 3087.5h11M1498.1 3087.5h-11M350.7 3005.3h11M1498.1 3005.3h-11M350.7 2923.1h11M1498.1 2923.1h-11M350.7 2840.9h11M1498.1 2840.9h-11M350.7 2758.7h11M1498.1 2758.7h-11M350.7 2676.5h11M1498.1 2676.5h-11M350.7 2594.3h11M1498.1 2594.3h-11M350.7 2512.1h11M1498.1 2512.1h-11M350.7 2429.9h11M1498.1 2429.9h-11" stroke="#262626" stroke-width="1.5" fill="none"/>
<text x="350.7" y="3290" font-size="27.7" text-anchor="middle" font-family='"Liberation Sans", sans-serif' fill="#262626" textLength="36.2" lengthAdjust="spacingAndGlyphs" >0.2</text>
<text x="554" y="3290" font-size="27.7" text-anchor="middle" font-family='"Liberation Sans", sans-serif' fill="#262626" textLength="36.2" lengthAdjust="spacingAndGlyphs" >0.4</text>
<text x="672.9" y="3290" font-size="27.7" text-anchor="middle" font-family='"Liberation Sans", sans-serif' fill="#262626" textLength="36.2" lengthAdjust="spacingAndGlyphs" >0.6</text>
<text x="757.3" y="3290" font-size="27.7" text-anchor="middle" font-family='"Liberation Sans", sans-serif' fill="#262626" textLength="36.2" lengthAdjust="spacingAndGlyphs" >0.8</text>
<text x="822.7" y="3290" font-size="27.7" text-anchor="middle" font-family='"Liberation Sans", sans-serif' fill="#262626" textLength="14.5" lengthAdjust="spacingAndGlyphs" >1</text>
<text x="876.2" y="3290" font-size="27.7" text-anchor="middle" font-family='"Liberation Sans", sans-serif' fill="#262626" textLength="36.2" lengthAdjust="spacingAndGlyphs" >1.2</text>
<text x="1026.1" y="3290" font-size="27.7" text-anchor="middle" font-family='"Liberation Sans", sans-serif' fill="#262626" textLength="14.5" lengthAdjust="spacingAndGlyphs" >2</text>
<text x="1229.4" y="3290" font-size="27.7" text-anchor="middle" font-family='"Liberation Sans", sans-serif' fill="#262626" textLength="14.5" lengthAdjust="spacingAndGlyphs" >4</text>
<text x="1348.3" y="3290" font-size="27.7" text-anchor="middle" font-family='"Liberation Sans", sans-serif' fill="#262626" textLength="14.5" lengthAdjust="spacingAndGlyphs" >6</text>
<text x="1432.7" y="3290" font-size="27.7" text-anchor="middle" font-family='"Liberation Sans", sans-serif' fill="#262626" textLength="14.5" lengthAdjust="spacingAndGlyphs" >8</text>
<text x="1498.1" y="3290" font-size="27.7" text-anchor="middle" font-family='"Liberation Sans", sans-serif' fill="#262626" textLength="29" lengthAdjust="spacingAndGlyphs" >10</text>
<text x="340" y="3263.2" font-size="27.7" text-anchor="end" font-family='"Liberation Sans", sans-serif' fill="#262626" textLength="14.5" lengthAdjust="spacingAndGlyphs" >3</text>
<text x="340" y="3181" font-size="27.7" text-anchor="end" font-family='"Liberation Sans", sans-serif' fill="#262626" textLength="14.5" lengthAdjust="spacingAndGlyphs" >4</text>
<text x="340" y="3098.8" font-size="27.7" text-anchor="end" font-family='"Liberation Sans", sans-serif' fill="#262626" textLength="14.5" lengthAdjust="spacingAndGlyphs" >5</text>
<text x="340" y="3016.6" font-size="27.7" text-anchor="end" font-family='"Liberation Sans", sans-serif' fill="#262626" textLength="14.5" lengthAdjust="spacingAndGlyphs" >6</text>
<text x="340" y="2934.4" font-size="27.7" text-anchor="end" font-family='"Liberation Sans", sans-serif' fill="#262626" textLength="14.5" lengthAdjust="spacingAndGlyphs" >7</text>
<text x="340" y="2852.2" font-size="27.7" text-anchor="end" font-family='"Liberation Sans", sans-serif' fill="#262626" textLength="14.5" lengthAdjust="spacingAndGlyphs" >8</text>
<text x="340" y="2770" font-size="27.7" text-anchor="end" font-family='"Liberation Sans", sans-serif' fill="#262626" textLength="14.5" lengthAdjust="spacingAndGlyphs" >9</text>
<text x="340" y="2687.8" font-size="27.7" text-anchor="end" font-family='"Liberation Sans", sans-serif' fill="#262626" textLength="29" lengthAdjust="spacingAndGlyphs" >10</text>
<text x="340" y="2605.6" font-size="27.7" text-anchor="end" font-family='"Liberation Sans", sans-serif' fill="#262626" textLength="27" lengthAdjust="spacingAndGlyphs" >11</text>
<text x="340" y="2523.4" font-size="27.7" text-anchor="end" font-family='"Liberation Sans", sans-serif' fill="#262626" textLength="29" lengthAdjust="spacingAndGlyphs" >12</text>
<text x="340" y="2441.2" font-size="27.7" text-anchor="end" font-family='"Liberation Sans", sans-serif' fill="#262626" textLength="29" lengthAdjust="spacingAndGlyphs" >13</text>
<text x="340" y="2359" font-size="27.7" text-anchor="end" font-family='"Liberation Sans", sans-serif' fill="#262626" textLength="29" lengthAdjust="spacingAndGlyphs" >14</text>
<text transform="translate(289.5,2802.5) rotate(-90)" font-size="33" text-anchor="middle" font-family='"Liberation Serif", serif' fill="#262626" textLength="128.6" lengthAdjust="spacingAndGlyphs"><tspan font-style="italic">ω</tspan> (THz)</text>
<line x1="919.5" y1="3316.3" x2="971.8" y2="3316.3" stroke="#262626" stroke-width="1.8"/>
<text x="944" y="3307.4" font-size="32" text-anchor="middle" font-style="italic" font-family='"Liberation Serif", serif' fill="#262626">E<tspan font-size="23" dy="5">i</tspan></text>
<text x="945" y="3347.4" font-size="32" text-anchor="middle" font-style="italic" font-family='"Liberation Serif", serif' fill="#262626">E<tspan font-size="23" dy="5">m</tspan></text>
<rect x="1542.6" y="3237.1" width="67" height="14.7" fill="#282828"/>
<rect x="1542.6" y="3222.9" width="67" height="14.7" fill="#20204c"/>
<rect x="1542.6" y="3208.8" width="67" height="14.7" fill="#191970"/>
<rect x="1542.6" y="3194.6" width="67" height="14.7" fill="#1111a0"/>
<rect x="1542.6" y="3180.5" width="67" height="14.7" fill="#0808cf"/>
<rect x="1542.6" y="3166.4" width="67" height="14.7" fill="#0000ff"/>
<rect x="1542.6" y="3152.2" width="67" height="14.7" fill="#0026ff"/>
<rect x="1542.6" y="3138.1" width="67" height="14.7" fill="#004bff"/>
<rect x="1542.6" y="3124" width="67" height="14.7" fill="#0070ff"/>
<rect x="1542.6" y="3109.8" width="67" height="14.7" fill="#0096ff"/>
<rect x="1542.6" y="3095.7" width="67" height="14.7" fill="#0e9dfa"/>
<rect x="1542.6" y="3081.5" width="67" height="14.7" fill="#1ba4f5"/>
<rect x="1542.6" y="3067.4" width="67" height="14.7" fill="#29abf0"/>
<rect x="1542.6" y="3053.3" width="67" height="14.7" fill="#36b2eb"/>
<rect x="1542.6" y="3039.1" width="67" height="14.7" fill="#44b9e6"/>
<rect x="1542.6" y="3025" width="67" height="14.7" fill="#36c7eb"/>
<rect x="1542.6" y="3010.9" width="67" height="14.7" fill="#29d5f0"/>
<rect x="1542.6" y="2996.7" width="67" height="14.7" fill="#1be3f5"/>
<rect x="1542.6" y="2982.6" width="67" height="14.7" fill="#0ef1fa"/>
<rect x="1542.6" y="2968.4" width="67" height="14.7" fill="#00ffff"/>
<rect x="1542.6" y="2954.3" width="67" height="14.7" fill="#00ffcc"/>
<rect x="1542.6" y="2940.2" width="67" height="14.7" fill="#00ff99"/>
<rect x="1542.6" y="2926" width="67" height="14.7" fill="#00ff66"/>
<rect x="1542.6" y="2911.9" width="67" height="14.7" fill="#00ff33"/>
<rect x="1542.6" y="2897.8" width="67" height="14.7" fill="#00ff00"/>
<rect x="1542.6" y="2883.6" width="67" height="14.7" fill="#11f308"/>
<rect x="1542.6" y="2869.5" width="67" height="14.7" fill="#23e610"/>
<rect x="1542.6" y="2855.3" width="67" height="14.7" fill="#34da18"/>
<rect x="1542.6" y="2841.2" width="67" height="14.7" fill="#46cd1f"/>
<rect x="1542.6" y="2827.1" width="67" height="14.7" fill="#57c127"/>
<rect x="1542.6" y="2812.9" width="67" height="14.7" fill="#69b42f"/>
<rect x="1542.6" y="2798.8" width="67" height="14.7" fill="#7aa837"/>
<rect x="1542.6" y="2784.7" width="67" height="14.7" fill="#90b62e"/>
<rect x="1542.6" y="2770.5" width="67" height="14.7" fill="#a6c525"/>
<rect x="1542.6" y="2756.4" width="67" height="14.7" fill="#bcd41c"/>
<rect x="1542.6" y="2742.2" width="67" height="14.7" fill="#d3e212"/>
<rect x="1542.6" y="2728.1" width="67" height="14.7" fill="#e9f009"/>
<rect x="1542.6" y="2714" width="67" height="14.7" fill="#ffff00"/>
<rect x="1542.6" y="2699.8" width="67" height="14.7" fill="#fff000"/>
<rect x="1542.6" y="2685.7" width="67" height="14.7" fill="#ffe100"/>
<rect x="1542.6" y="2671.6" width="67" height="14.7" fill="#ffd200"/>
<rect x="1542.6" y="2657.4" width="67" height="14.7" fill="#ffc300"/>
<rect x="1542.6" y="2643.3" width="67" height="14.7" fill="#ffb400"/>
<rect x="1542.6" y="2629.2" width="67" height="14.7" fill="#ffa500"/>
<rect x="1542.6" y="2615" width="67" height="14.7" fill="#ff9600"/>
<rect x="1542.6" y="2600.9" width="67" height="14.7" fill="#ff8700"/>
<rect x="1542.6" y="2586.7" width="67" height="14.7" fill="#ff7800"/>
<rect x="1542.6" y="2572.6" width="67" height="14.7" fill="#ff6900"/>
<rect x="1542.6" y="2558.5" width="67" height="14.7" fill="#ff5a00"/>
<rect x="1542.6" y="2544.3" width="67" height="14.7" fill="#ff4b00"/>
<rect x="1542.6" y="2530.2" width="67" height="14.7" fill="#ff3c00"/>
<rect x="1542.6" y="2516.1" width="67" height="14.7" fill="#ff2d00"/>
<rect x="1542.6" y="2501.9" width="67" height="14.7" fill="#ff1e00"/>
<rect x="1542.6" y="2487.8" width="67" height="14.7" fill="#ff0f00"/>
<rect x="1542.6" y="2473.6" width="67" height="14.7" fill="#ff0000"/>
<rect x="1542.6" y="2459.5" width="67" height="14.7" fill="#e50a1d"/>
<rect x="1542.6" y="2445.4" width="67" height="14.7" fill="#cb133a"/>
<rect x="1542.6" y="2431.2" width="67" height="14.7" fill="#b11d57"/>
<rect x="1542.6" y="2417.1" width="67" height="14.7" fill="#972674"/>
<rect x="1542.6" y="2402.9" width="67" height="14.7" fill="#7d3091"/>
<rect x="1542.6" y="2388.8" width="67" height="14.7" fill="#9e24ac"/>
<rect x="1542.6" y="2374.7" width="67" height="14.7" fill="#be18c8"/>
<rect x="1542.6" y="2360.5" width="67" height="14.7" fill="#de0ce4"/>
<rect x="1542.6" y="2346.4" width="67" height="14.7" fill="#ff00ff"/>
<rect x="1542.6" y="2346.4" width="67" height="904.8" fill="none" stroke="#262626" stroke-width="1.4"/>
<text x="1622" y="2594.4" font-size="35" font-family='"Liberation Serif", serif' fill="#111">10<tspan font-size="24" dy="-14">4</tspan></text>
<text x="1622" y="3028.4" font-size="35" font-family='"Liberation Serif", serif' fill="#111">10<tspan font-size="24" dy="-14">3</tspan></text>
<g font-family='"Liberation Sans", sans-serif' fill="#000" stroke="#000" stroke-width="1.4"><text transform="translate(57,2390.7) scale(0.728,1)" x="-4.5" y="0" font-size="72.8">(</text><text transform="translate(78.9,2393) scale(0.915,1)" x="-3" y="0" font-size="72">c</text><text transform="translate(114.2,2390.7) scale(0.718,1)" x="-0.4" y="0" font-size="72.8">)</text></g>
<path d="M548.8 4188L548.8 3577.1M699.6 4151.6L699.6 3540.7M850.4 4115.3L850.4 3504.4M1001.2 4078.9L1001.2 3468M1152 4042.6L1152 3431.7M1355.2 4118.4L1355.2 3507.5M1558.3 4194.2L1558.3 3583.3M1761.5 4270L1761.5 3659.1M398 4224.3L1152 4042.6M1152 4042.6L1761.5 4270M398 4020.7L1152 3839M1152 3839L1761.5 4066.4M398 3817L1152 3635.3M1152 3635.3L1761.5 3862.7M398 3613.4L1152 3431.7M1152 3431.7L1761.5 3659.1M601.2 4300.1L1355.2 4118.4M804.3 4375.9L1558.3 4194.2M548.8 4188L1158.3 4415.4M699.6 4151.6L1309.1 4379M850.4 4115.3L1459.9 4342.7M1001.2 4078.9L1610.7 4306.3" stroke="#dfdfdf" stroke-width="1.5" fill="none"/>
<defs><linearGradient id="gD" gradientUnits="userSpaceOnUse" x1="912.7" y1="3774.8" x2="958.3" y2="4101.6"><stop offset="0.000" stop-color="#2a7048"/><stop offset="0.106" stop-color="#0c6a5f"/><stop offset="0.212" stop-color="#00646e"/><stop offset="0.394" stop-color="#0a5c7d"/><stop offset="0.606" stop-color="#1e488e"/><stop offset="0.788" stop-color="#2d3296"/><stop offset="1.000" stop-color="#34208c"/></linearGradient><linearGradient id="gE" gradientUnits="userSpaceOnUse" x1="1020" y1="4120" x2="1719.1" y2="4155"><stop offset="0.000" stop-color="#0f5f96"/><stop offset="0.129" stop-color="#1e5fb9"/><stop offset="0.329" stop-color="#3450cb"/><stop offset="1.000" stop-color="#384ccc"/></linearGradient><linearGradient id="gA" gradientUnits="userSpaceOnUse" x1="670" y1="3704" x2="706.1" y2="3900.7"><stop offset="0.000" stop-color="#8e642d"/><stop offset="0.225" stop-color="#80761e"/><stop offset="0.475" stop-color="#697d20"/><stop offset="0.700" stop-color="#46732d"/><stop offset="0.875" stop-color="#285a32"/><stop offset="1.000" stop-color="#164630"/></linearGradient><radialGradient id="gB" gradientUnits="userSpaceOnUse" cx="902" cy="3822" r="310"><stop offset="0.000" stop-color="#845c28"/><stop offset="0.200" stop-color="#7c6224"/><stop offset="0.400" stop-color="#586426"/><stop offset="0.600" stop-color="#2a5830"/><stop offset="0.800" stop-color="#144e42"/><stop offset="1.000" stop-color="#0e445c"/></radialGradient><linearGradient id="gB2" gradientUnits="userSpaceOnUse" x1="892.9" y1="3743.6" x2="886.9" y2="3803.3"><stop offset="0.000" stop-color="#7c8012" stop-opacity="1.0"/><stop offset="0.417" stop-color="#7e7618" stop-opacity="0.8"/><stop offset="1.000" stop-color="#876423" stop-opacity="0.0"/></linearGradient><linearGradient id="gC" gradientUnits="userSpaceOnUse" x1="786" y1="3889" x2="654.5" y2="4243.4"><stop offset="0.000" stop-color="#588c32"/><stop offset="0.040" stop-color="#3e8c46"/><stop offset="0.093" stop-color="#328750"/><stop offset="0.153" stop-color="#1e8269"/><stop offset="0.312" stop-color="#007676"/><stop offset="0.423" stop-color="#0a6c87"/><stop offset="0.540" stop-color="#145f96"/><stop offset="0.635" stop-color="#1e50a0"/><stop offset="0.767" stop-color="#2d3caa"/><stop offset="0.860" stop-color="#322da2"/><stop offset="0.926" stop-color="#322694"/><stop offset="1.000" stop-color="#2c1c70"/></linearGradient></defs>
<polygon points="880,3778 910.2,3773.3 1273.4,3724.7 1316.5,3832.7 1352.5,3919 1374.1,3983.7 1394.2,4050 1215.8,4084.5 1057.6,4081 1000,4082 940,3990 900,3850" fill="url(#gD)" />
<polygon points="1394.2,4050 1519.4,4029 1719.4,4095.3 1625.9,4120.4 1503.6,4149.2 1359.7,4167.2 1273.4,4175.8 1115.1,4175.8 1057.6,4149.2 1000,4120.4 1020,4075 1057.6,4080.9 1215.8,4084.5" fill="url(#gE)" />
<polygon points="1070,4108 1105,4104 1087,4116" fill="#0c2f5c" />
<polygon points="1087,4130 1143,4124 1104,4138" fill="#0c2f5c" />
<polygon points="1104,4169 1225,4160 1135,4176" fill="#0c2f5c" />
<polygon points="1190,4083 1260,4077 1216,4089" fill="#0c2f5c" />
<polygon points="670,3704.3 835,3790 790,3850 705,3905 690,3893 652.2,3875.9 610.6,3792.2" fill="url(#gA)" />
<polygon points="892.9,3743.6 910.2,3773.3 931.7,3821.9 958.7,3919 977.6,3978.4 1012.7,4032.4 1045.4,4061.8 1089.5,4137.4 1114.7,4168.8 1160,4176 1115.1,4175.8 1057.6,4149.2 1015,4126 975,4095 940,4060 915,4035 890,3995 865,3962 835,3930 810,3908 786,3900 700,3945 690,3891" fill="url(#gB)" />
<polygon points="892.9,3743.6 911,3776 920,3800 868,3790 862,3766" fill="url(#gB2)" />
<polygon points="579.9,3874.8 618.7,3925.5 661.9,3934.2 702.4,3934.2 786,3889.4 818.4,3897.5 845.4,3919 877.8,3951.4 902,3983.8 926.3,4027 955,4052 990,4090 1023.4,4127.9 1014,4231.8 995.1,4319.9 979.3,4384.1 900.6,4351.4 856.6,4323.1 818.8,4291.6 711.8,4250.7 617.4,4219.2 573.3,4222.4 535.5,4207.9 554.4,4074.4 566,3983" fill="url(#gC)" />
<path d="M398 3613.4L398 4224.3L1007.5 4451.7L1761.5 4270" stroke="#262626" stroke-width="2.2" fill="none"/>
<path d="M398 4224.3l-19 -6.3M398 4020.7l-19 -6.3M398 3817l-19 -6.3M398 3613.4l-19 -6.3M398 4224.3l-21 5M601.2 4300.1l-21 5M804.3 4375.9l-21 5M1007.5 4451.7l-21 5M1007.5 4451.7l15 4.8M1158.3 4415.4l15 4.8M1309.1 4379l15 4.8M1459.9 4342.7l15 4.8M1610.7 4306.3l15 4.8M1761.5 4270l15 4.8" stroke="#262626" stroke-width="2" fill="none"/>
<text x="361.5" y="3621.2" font-size="43.9" text-anchor="end" font-family='"Liberation Sans", sans-serif' fill="#262626" textLength="137.7" lengthAdjust="spacingAndGlyphs" >100000</text>
<text x="361.5" y="3824.8" font-size="43.9" text-anchor="end" font-family='"Liberation Sans", sans-serif' fill="#262626" textLength="114.8" lengthAdjust="spacingAndGlyphs" >10000</text>
<text x="361.5" y="4028.4" font-size="43.9" text-anchor="end" font-family='"Liberation Sans", sans-serif' fill="#262626" textLength="91.8" lengthAdjust="spacingAndGlyphs" >1000</text>
<text x="361.5" y="4232" font-size="43.9" text-anchor="end" font-family='"Liberation Sans", sans-serif' fill="#262626" textLength="68.9" lengthAdjust="spacingAndGlyphs" >100</text>
<text x="348.9" y="4280.7" font-size="43.9" text-anchor="middle" font-family='"Liberation Sans", sans-serif' fill="#262626" textLength="23" lengthAdjust="spacingAndGlyphs" >0</text>
<text x="551.8" y="4356.2" font-size="43.9" text-anchor="middle" font-family='"Liberation Sans", sans-serif' fill="#262626" textLength="23" lengthAdjust="spacingAndGlyphs" >5</text>
<text x="746" y="4431.8" font-size="43.9" text-anchor="middle" font-family='"Liberation Sans", sans-serif' fill="#262626" textLength="45.9" lengthAdjust="spacingAndGlyphs" >10</text>
<text x="948" y="4507.8" font-size="43.9" text-anchor="middle" font-family='"Liberation Sans", sans-serif' fill="#262626" textLength="45.9" lengthAdjust="spacingAndGlyphs" >15</text>
<text x="1050.3" y="4510.8" font-size="43.9" text-anchor="middle" font-family='"Liberation Sans", sans-serif' fill="#262626" textLength="23" lengthAdjust="spacingAndGlyphs" >0</text>
<text x="1201.3" y="4475.8" font-size="43.9" text-anchor="middle" font-family='"Liberation Sans", sans-serif' fill="#262626" textLength="23" lengthAdjust="spacingAndGlyphs" >2</text>
<text x="1352.3" y="4439" font-size="43.9" text-anchor="middle" font-family='"Liberation Sans", sans-serif' fill="#262626" textLength="23" lengthAdjust="spacingAndGlyphs" >4</text>
<text x="1502.5" y="4402.1" font-size="43.9" text-anchor="middle" font-family='"Liberation Sans", sans-serif' fill="#262626" textLength="23" lengthAdjust="spacingAndGlyphs" >6</text>
<text x="1653.6" y="4366.1" font-size="43.9" text-anchor="middle" font-family='"Liberation Sans", sans-serif' fill="#262626" textLength="23" lengthAdjust="spacingAndGlyphs" >8</text>
<text x="1817.3" y="4328.4" font-size="43.9" text-anchor="middle" font-family='"Liberation Sans", sans-serif' fill="#262626" textLength="45.9" lengthAdjust="spacingAndGlyphs" >10</text>
<text x="436.7" y="4453" font-size="53" font-family='"Liberation Serif", serif' fill="#262626" textLength="208.6" lengthAdjust="spacingAndGlyphs"><tspan font-style="italic">ω</tspan> (THz)</text>
<line x1="1680.6" y1="4390" x2="1761.5" y2="4390" stroke="#262626" stroke-width="2.6"/>
<text x="1718" y="4378.3" font-size="53" text-anchor="middle" font-style="italic" font-family='"Liberation Serif", serif' fill="#262626">E<tspan font-size="38" dy="9">i</tspan></text>
<text x="1720" y="4441.3" font-size="53" text-anchor="middle" font-style="italic" font-family='"Liberation Serif", serif' fill="#262626">E<tspan font-size="38" dy="9">m</tspan></text>
<g font-family='"Liberation Sans", sans-serif' fill="#000" stroke="#000" stroke-width="1.4"><text transform="translate(39.8,3470.9) scale(0.731,1)" x="-4.9" y="0" font-size="78.8">(</text><text transform="translate(64,3473) scale(0.988,1)" x="-3.3" y="0" font-size="78">d</text><text transform="translate(110,3470.9) scale(0.759,1)" x="-0.5" y="0" font-size="78.8">)</text></g>
</svg></body></html>
